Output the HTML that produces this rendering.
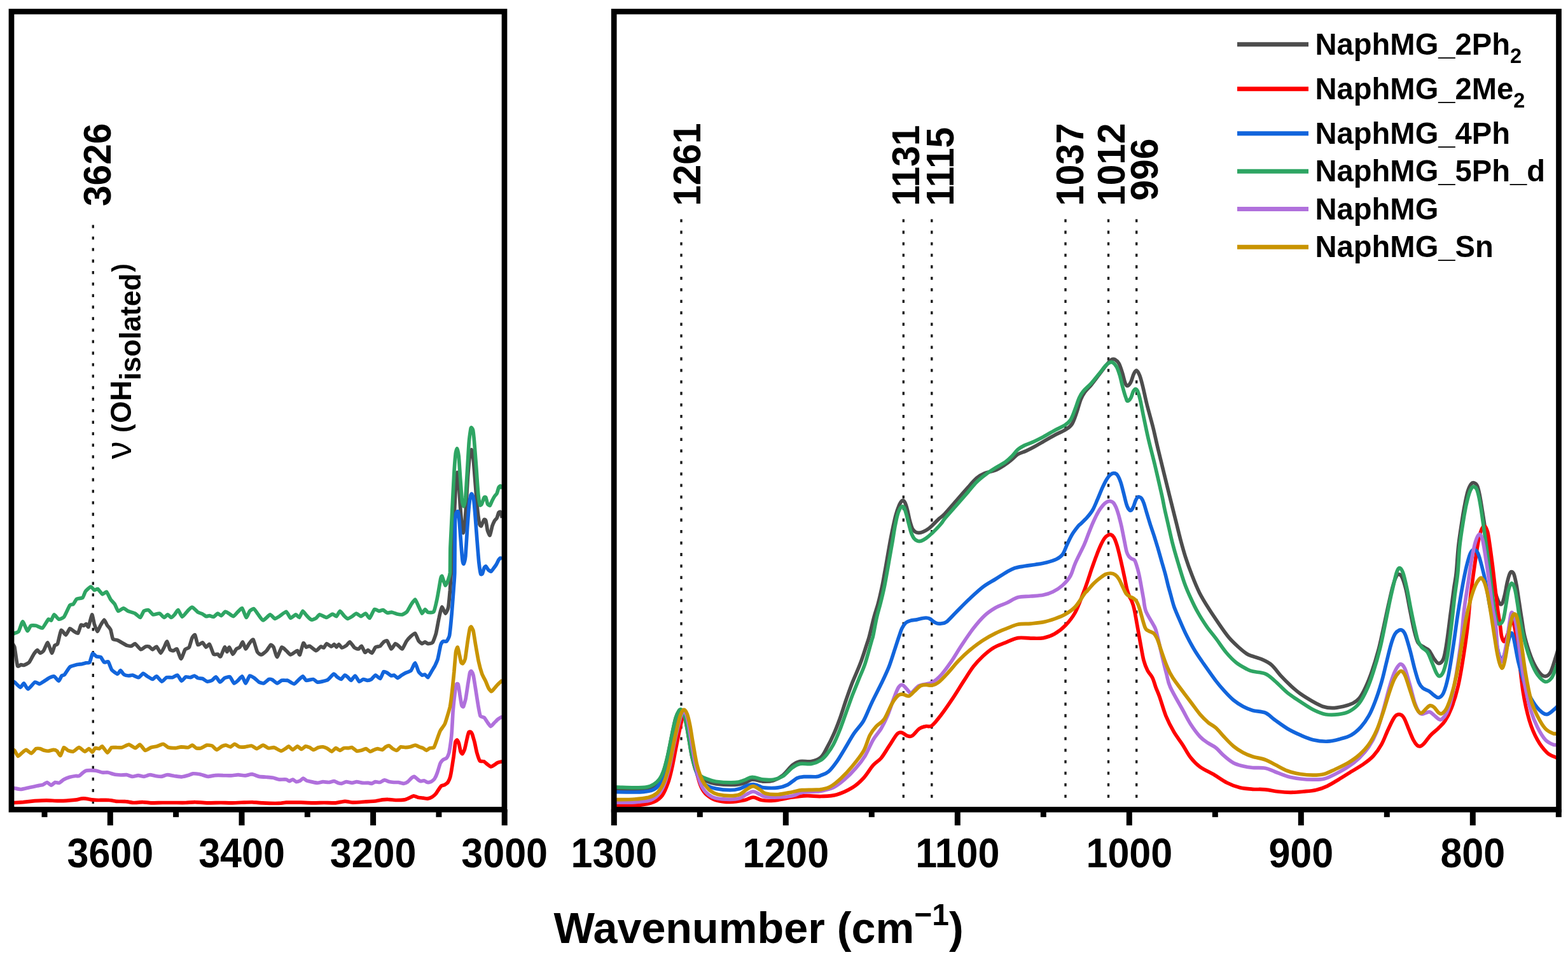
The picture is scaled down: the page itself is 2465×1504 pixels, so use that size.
<!DOCTYPE html>
<html lang="en">
<head>
<meta charset="utf-8">
<title>FTIR spectra</title>
<style>
html,body{margin:0;padding:0;background:#fff;}
body{width:2465px;height:1504px;overflow:hidden;}
svg{display:block;}
</style>
</head>
<body>
<svg width="2465" height="1504" viewBox="0 0 2465 1504" font-family='"Liberation Sans", sans-serif' font-weight="bold">
<rect x="0" y="0" width="2465" height="1504" fill="#ffffff"/>
<defs><clipPath id="cl"><rect x="18" y="18" width="775" height="1253"/></clipPath><clipPath id="cr"><rect x="965" y="18" width="1485" height="1253"/></clipPath></defs>
<line x1="146.3" y1="353.6" x2="146.3" y2="1267" stroke="#1c1c1c" stroke-width="3.4" stroke-dasharray="4.8 13.29" />
<line x1="1071.0" y1="344.5" x2="1071.0" y2="1267" stroke="#1c1c1c" stroke-width="3.4" stroke-dasharray="4.8 13.29" />
<line x1="1420.3" y1="344.5" x2="1420.3" y2="1267" stroke="#1c1c1c" stroke-width="3.4" stroke-dasharray="4.8 13.29" />
<line x1="1464.8" y1="344.5" x2="1464.8" y2="1267" stroke="#1c1c1c" stroke-width="3.4" stroke-dasharray="4.8 13.29" />
<line x1="1675.0" y1="344.5" x2="1675.0" y2="1267" stroke="#1c1c1c" stroke-width="3.4" stroke-dasharray="4.8 13.29" />
<line x1="1742.5" y1="344.5" x2="1742.5" y2="1267" stroke="#1c1c1c" stroke-width="3.4" stroke-dasharray="4.8 13.29" />
<line x1="1786.7" y1="344.5" x2="1786.7" y2="1267" stroke="#1c1c1c" stroke-width="3.4" stroke-dasharray="4.8 13.29" />
<path d="M18.3,1009.8C18.7,1010.4 22.1,1014.1 22.9,1017.1C23.6,1020.2 26.6,1044.1 27.5,1046.4C28.3,1048.7 32.1,1044.7 32.9,1044.6C33.8,1044.5 36.5,1045.8 37.5,1045.5C38.6,1045.2 44.5,1042.4 45.8,1040.9C47.1,1039.5 52.0,1029.7 53.1,1028.1C54.1,1026.5 57.7,1021.9 58.6,1021.7C59.4,1021.6 62.3,1026.2 63.1,1026.3C64.0,1026.4 67.6,1024.0 68.6,1022.6C69.6,1021.2 74.0,1009.5 75.0,1009.8C76.1,1010.1 80.5,1025.9 81.4,1026.3C82.4,1026.7 85.3,1015.6 86.0,1014.4C86.8,1013.2 89.8,1013.6 90.6,1011.6C91.4,1009.7 95.0,991.7 96.1,990.6C97.2,989.4 102.3,998.1 103.4,997.9C104.5,997.7 108.8,988.4 109.8,987.8C110.8,987.3 114.2,990.9 115.3,991.5C116.4,992.1 121.6,995.9 122.6,995.2C123.6,994.4 126.4,983.3 127.2,982.4C128.0,981.4 131.1,983.4 131.8,983.3C132.5,983.1 134.8,980.4 135.4,980.5C136.0,980.7 138.3,986.3 139.1,985.1C139.9,983.9 143.8,966.3 144.6,965.9C145.3,965.5 147.6,978.3 148.2,980.5C148.9,982.7 152.0,992.3 152.8,992.4C153.7,992.6 157.4,983.9 158.3,982.4C159.2,980.8 163.0,974.1 163.8,974.1C164.6,974.1 167.5,981.1 168.4,982.4C169.2,983.7 173.1,987.8 173.9,989.7C174.6,991.5 176.6,1002.9 177.5,1004.3C178.4,1005.7 183.7,1005.7 184.8,1006.1C186.0,1006.6 190.0,1009.1 191.3,1009.8C192.5,1010.5 198.2,1013.9 199.5,1014.4C200.8,1014.8 205.7,1015.5 206.8,1015.3C207.9,1015.1 211.1,1011.2 212.3,1011.6C213.5,1012.1 220.1,1020.4 221.4,1020.8C222.8,1021.2 227.7,1016.6 228.8,1016.2C229.8,1015.8 233.3,1015.8 234.3,1016.2C235.2,1016.6 238.8,1020.8 239.8,1020.8C240.7,1020.8 245.1,1015.8 246.2,1016.2C247.2,1016.7 251.6,1026.2 252.6,1026.3C253.6,1026.4 257.2,1018.7 258.1,1017.1C258.9,1015.6 261.9,1007.7 262.6,1008.0C263.4,1008.3 266.4,1019.6 267.2,1020.8C268.0,1022.0 271.8,1022.7 272.7,1022.6C273.6,1022.5 277.2,1018.8 278.2,1019.9C279.2,1020.9 283.5,1035.4 284.6,1035.4C285.7,1035.5 289.9,1022.3 291.0,1020.8C292.1,1019.3 296.5,1018.7 297.4,1017.1C298.3,1015.6 301.2,1004.1 302.0,1002.5C302.7,1000.9 305.8,997.0 306.6,997.9C307.3,998.8 310.1,1012.5 311.1,1013.5C312.1,1014.5 317.4,1009.5 318.4,1009.8C319.5,1010.1 323.0,1016.9 323.9,1017.1C324.9,1017.4 328.4,1011.6 329.4,1012.6C330.4,1013.5 334.8,1026.8 335.8,1028.1C336.9,1029.4 341.3,1027.8 342.2,1028.1C343.2,1028.4 345.9,1032.7 346.8,1031.8C347.7,1030.9 352.4,1017.7 353.2,1017.1C354.1,1016.5 356.3,1024.5 356.9,1024.5C357.5,1024.5 359.8,1016.8 360.5,1017.1C361.3,1017.4 365.1,1027.9 366.0,1028.1C366.9,1028.3 370.6,1020.8 371.5,1019.9C372.4,1019.0 376.2,1018.0 377.0,1017.1C377.9,1016.2 380.8,1008.7 381.6,1008.9C382.4,1009.1 385.3,1019.6 386.2,1019.9C387.0,1020.1 390.7,1012.9 391.7,1011.6C392.6,1010.4 397.0,1004.2 398.1,1005.2C399.1,1006.3 403.4,1022.5 404.5,1024.5C405.5,1026.4 409.7,1029.2 410.9,1029.0C412.1,1028.9 417.9,1023.9 419.1,1022.6C420.3,1021.3 424.6,1013.9 425.5,1013.5C426.4,1013.0 429.2,1015.5 430.1,1017.1C430.9,1018.7 434.5,1032.7 435.6,1032.7C436.6,1032.7 441.7,1018.0 442.9,1017.1C444.1,1016.3 448.9,1021.6 450.0,1022.6C451.2,1023.6 455.6,1028.9 456.7,1029.0C457.9,1029.2 463.1,1025.0 464.1,1024.5C465.0,1023.9 467.1,1022.2 467.7,1022.6C468.3,1023.0 470.6,1030.0 471.4,1029.0C472.1,1028.0 476.0,1011.7 476.9,1010.7C477.7,1009.7 480.6,1016.7 481.4,1017.1C482.3,1017.5 485.6,1014.8 486.9,1015.3C488.2,1015.8 495.5,1022.5 497.0,1022.6C498.4,1022.7 503.3,1016.6 504.3,1016.2C505.3,1015.8 508.1,1018.4 508.9,1018.0C509.7,1017.7 512.5,1011.8 513.5,1011.6C514.5,1011.5 519.8,1016.1 520.8,1016.2C521.8,1016.3 524.7,1012.5 525.4,1012.6C526.1,1012.6 528.4,1017.1 529.0,1017.1C529.6,1017.1 532.0,1012.5 532.7,1012.6C533.4,1012.6 536.3,1017.9 537.3,1018.0C538.3,1018.2 543.5,1015.1 544.6,1014.4C545.7,1013.6 549.0,1008.6 550.1,1008.9C551.1,1009.2 556.2,1017.1 557.4,1018.0C558.5,1019.0 562.9,1020.1 563.8,1019.9C564.7,1019.6 567.5,1014.8 568.4,1015.3C569.2,1015.8 573.0,1024.8 573.9,1025.4C574.7,1025.9 577.5,1021.6 578.4,1021.7C579.4,1021.8 583.9,1026.7 584.8,1026.3C585.8,1025.9 589.3,1018.0 590.3,1017.1C591.4,1016.2 596.6,1016.0 597.7,1015.3C598.7,1014.6 602.2,1009.6 603.1,1008.9C604.1,1008.2 607.6,1006.1 608.6,1007.1C609.6,1008.0 614.0,1019.5 615.0,1019.9C616.1,1020.3 620.5,1012.0 621.4,1011.6C622.4,1011.3 626.0,1014.6 626.9,1015.3C627.9,1016.0 631.4,1020.5 632.4,1019.9C633.4,1019.3 637.8,1009.6 638.8,1008.0C639.9,1006.4 644.1,1001.7 645.2,1000.7C646.4,999.6 651.5,994.6 652.6,995.2C653.6,995.7 657.1,1005.7 658.1,1007.1C659.0,1008.4 662.7,1011.5 663.5,1011.6C664.4,1011.8 667.4,1008.9 668.1,1008.9C668.9,1008.9 671.7,1011.6 672.7,1011.6C673.7,1011.7 678.9,1011.2 680.0,1009.8C681.1,1008.4 684.7,998.4 685.5,995.2C686.3,992.0 689.3,974.8 690.1,971.4C690.8,967.9 693.8,954.6 694.7,954.0C695.5,953.4 699.3,964.0 700.1,964.1C701.0,964.1 704.1,958.0 704.7,954.9C705.3,951.9 707.1,932.0 707.5,927.5C707.8,922.9 709.1,902.6 709.3,900.0C709.5,897.4 709.5,901.1 709.8,896.2C710.1,891.3 712.1,850.5 712.6,841.3C713.0,832.2 714.9,793.7 715.3,786.4C715.7,779.1 716.8,757.1 717.1,753.5C717.4,749.8 718.6,742.2 719.0,742.5C719.3,742.8 720.8,752.7 721.2,757.1C721.5,761.6 723.1,789.6 723.5,795.6C724.0,801.5 725.9,825.0 726.3,828.5C726.7,832.0 727.8,837.7 728.1,837.7C728.4,837.7 729.9,832.0 730.3,828.5C730.7,825.0 732.3,802.1 732.7,795.6C733.1,789.0 735.0,756.2 735.4,749.8C735.9,743.4 737.7,722.3 738.2,718.7C738.7,715.1 740.8,706.5 741.3,706.8C741.8,707.1 743.8,718.8 744.2,722.4C744.6,725.9 745.9,743.7 746.4,749.8C746.9,755.9 749.5,789.5 750.1,795.6C750.7,801.7 753.2,820.4 753.7,823.0C754.3,825.6 755.9,827.2 756.5,826.7C757.1,826.1 760.4,817.3 761.1,816.6C761.7,815.9 763.3,817.0 763.8,818.4C764.3,819.9 766.0,832.1 766.5,834.0C767.1,835.9 769.6,841.9 770.2,841.3C770.8,840.7 773.3,828.6 773.9,826.7C774.5,824.8 776.9,819.5 777.5,818.4C778.1,817.4 780.7,814.9 781.2,813.9C781.7,812.8 783.5,806.4 783.9,805.6C784.4,804.9 786.2,804.0 786.7,804.7C787.1,805.4 789.2,813.1 789.4,813.9" fill="none" stroke="#4d4d4d" stroke-width="5.7" stroke-linejoin="round" stroke-linecap="butt" clip-path="url(#cl)"/>
<path d="M18.3,1261.5C18.6,1261.5 21.3,1261.6 22.8,1261.5C24.3,1261.4 33.9,1260.8 36.5,1260.6C39.2,1260.3 51.7,1259.0 54.8,1258.7C57.8,1258.5 70.0,1257.8 73.0,1257.8C76.1,1257.8 88.3,1258.7 91.3,1258.7C94.4,1258.7 107.1,1258.0 109.6,1257.8C112.0,1257.7 119.0,1257.1 120.5,1256.9C122.0,1256.7 126.6,1255.2 127.8,1255.1C129.0,1254.9 133.8,1254.9 135.1,1255.1C136.5,1255.2 142.6,1256.7 144.3,1256.9C145.9,1257.1 152.9,1257.4 155.2,1257.5C157.5,1257.5 169.4,1257.3 171.7,1257.5C173.9,1257.6 180.5,1259.1 182.6,1259.3C184.7,1259.5 194.9,1259.5 197.2,1259.7C199.5,1259.8 207.7,1261.4 210.0,1261.5C212.3,1261.6 222.3,1260.5 224.6,1260.6C226.9,1260.6 234.8,1261.8 237.4,1261.8C240.0,1261.9 252.6,1261.5 255.7,1261.5C258.7,1261.5 270.9,1261.5 273.9,1261.5C277.0,1261.5 289.4,1261.6 292.2,1261.5C294.9,1261.4 304.1,1260.5 306.8,1260.6C309.5,1260.6 321.7,1261.8 325.1,1261.8C328.4,1261.9 343.6,1261.5 347.0,1261.5C350.3,1261.5 362.2,1261.9 365.2,1261.8C368.3,1261.8 380.8,1261.2 383.5,1261.1C386.2,1261.0 395.7,1260.7 398.1,1260.8C400.5,1260.8 409.4,1261.7 412.7,1261.8C416.1,1262.0 435.2,1262.5 438.3,1262.4C441.4,1262.3 448.6,1261.2 450.0,1261.1C451.3,1261.0 452.9,1261.1 454.8,1261.1C456.7,1261.1 470.0,1261.1 473.0,1261.1C476.1,1261.2 488.3,1261.8 491.3,1261.8C494.4,1261.9 506.5,1261.5 509.6,1261.5C512.6,1261.5 525.1,1262.0 527.8,1261.8C530.6,1261.7 540.2,1259.4 542.4,1259.3C544.7,1259.2 552.6,1261.1 555.2,1261.1C557.8,1261.2 570.4,1260.2 573.5,1260.0C576.5,1259.8 589.5,1259.0 591.7,1258.7C594.0,1258.5 599.4,1257.1 600.9,1256.9C602.4,1256.7 608.2,1256.3 610.0,1256.4C611.8,1256.4 620.7,1257.4 622.8,1257.5C624.9,1257.5 633.9,1257.2 635.6,1256.9C637.2,1256.6 641.7,1254.7 642.9,1254.2C644.1,1253.7 649.0,1251.0 650.2,1250.9C651.4,1250.8 656.3,1253.0 657.5,1253.3C658.7,1253.5 663.6,1254.0 664.8,1254.2C666.0,1254.3 670.9,1255.2 672.1,1255.1C673.3,1254.9 678.3,1253.0 679.4,1252.4C680.5,1251.7 684.0,1248.9 684.9,1247.8C685.8,1246.7 689.6,1240.6 690.4,1239.6C691.1,1238.5 693.2,1235.5 694.0,1235.0C694.8,1234.5 698.7,1233.6 699.5,1233.2C700.3,1232.7 703.4,1230.5 704.1,1229.5C704.7,1228.5 707.2,1223.2 707.7,1221.3C708.2,1219.4 710.0,1209.4 710.4,1206.7C710.9,1204.0 712.7,1191.8 713.2,1188.4C713.6,1185.1 715.5,1168.7 715.9,1166.5C716.4,1164.4 718.2,1162.7 718.7,1162.9C719.1,1163.0 720.9,1166.8 721.4,1168.3C721.9,1169.9 723.7,1179.8 724.1,1181.1C724.6,1182.5 726.3,1185.1 726.9,1184.8C727.4,1184.5 729.9,1179.5 730.5,1177.5C731.1,1175.5 733.7,1163.3 734.2,1161.0C734.7,1158.8 736.5,1151.9 736.9,1151.0C737.4,1150.1 739.2,1149.9 739.7,1150.1C740.1,1150.3 741.9,1152.4 742.4,1153.7C742.9,1155.1 745.4,1164.1 746.1,1166.5C746.7,1169.0 749.0,1180.5 749.7,1183.0C750.4,1185.4 753.4,1194.6 754.3,1195.7C755.2,1196.9 759.7,1196.2 760.7,1196.7C761.7,1197.1 765.2,1200.5 766.1,1201.2C767.1,1201.9 770.7,1204.8 771.6,1204.9C772.5,1204.9 776.2,1202.7 777.1,1202.1C778.0,1201.6 781.5,1198.9 782.6,1198.5C783.6,1198.0 789.3,1196.8 789.9,1196.7" fill="none" stroke="#ff0000" stroke-width="5.7" stroke-linejoin="round" stroke-linecap="butt" clip-path="url(#cl)"/>
<path d="M18.3,1070.2C18.7,1070.4 21.7,1071.2 22.9,1072.0C24.0,1072.9 30.8,1080.1 32.0,1080.3C33.2,1080.4 36.5,1073.6 37.5,1073.9C38.5,1074.1 42.5,1083.2 43.9,1083.0C45.4,1082.9 53.4,1072.7 54.9,1072.0C56.4,1071.3 61.1,1074.9 62.2,1074.8C63.4,1074.7 67.4,1071.9 68.6,1071.1C69.9,1070.4 75.5,1066.3 76.9,1065.6C78.2,1064.9 83.8,1062.5 85.1,1062.9C86.4,1063.3 91.4,1070.3 92.4,1070.2C93.4,1070.1 96.2,1062.8 97.0,1062.0C97.8,1061.1 100.5,1061.3 101.6,1060.1C102.6,1059.0 108.2,1049.5 109.8,1048.2C111.4,1046.9 119.3,1045.0 120.8,1044.6C122.3,1044.2 126.9,1043.9 128.1,1043.7C129.3,1043.4 134.4,1042.1 135.4,1041.8C136.5,1041.6 140.1,1042.1 140.9,1040.9C141.8,1039.7 144.6,1028.0 145.5,1027.2C146.4,1026.4 150.8,1031.3 151.9,1031.8C153.0,1032.2 157.3,1031.9 158.3,1032.7C159.3,1033.4 162.8,1040.3 163.8,1040.9C164.8,1041.5 169.2,1039.0 170.2,1040.0C171.2,1041.0 174.5,1051.2 175.7,1052.8C176.9,1054.4 183.7,1059.1 184.8,1059.2C186.0,1059.3 188.6,1053.7 189.4,1053.7C190.3,1053.8 193.8,1059.5 194.9,1060.1C196.0,1060.8 201.1,1061.9 202.2,1062.0C203.4,1062.0 207.3,1060.8 208.6,1061.1C209.9,1061.3 216.4,1064.9 217.8,1064.7C219.2,1064.5 224.0,1058.5 225.1,1058.3C226.3,1058.2 230.3,1062.1 231.5,1062.9C232.7,1063.6 238.5,1067.5 239.8,1067.5C241.0,1067.5 244.9,1062.6 246.2,1062.9C247.4,1063.2 253.1,1071.0 254.4,1071.1C255.7,1071.3 260.3,1065.2 261.7,1064.7C263.1,1064.2 269.4,1065.0 270.9,1064.7C272.3,1064.4 277.9,1060.6 279.1,1061.1C280.3,1061.5 284.4,1070.0 285.5,1070.2C286.6,1070.4 290.8,1064.3 291.9,1063.8C293.1,1063.3 298.1,1064.9 299.2,1064.7C300.4,1064.6 304.6,1061.9 305.6,1062.0C306.6,1062.0 310.1,1065.2 311.1,1065.6C312.2,1066.0 317.2,1066.1 318.4,1066.5C319.7,1067.0 324.5,1070.9 325.8,1071.1C327.0,1071.3 331.9,1069.9 333.1,1069.3C334.2,1068.7 338.4,1063.6 339.5,1063.8C340.6,1064.0 344.8,1071.9 345.9,1072.0C347.0,1072.2 351.9,1066.3 353.2,1065.6C354.5,1064.9 360.2,1063.1 361.5,1063.8C362.7,1064.5 366.8,1073.4 367.9,1073.9C368.9,1074.3 373.2,1070.2 374.3,1069.3C375.3,1068.4 379.7,1062.5 380.7,1062.9C381.7,1063.3 385.2,1073.9 386.2,1073.9C387.2,1073.8 391.4,1062.7 392.6,1062.0C393.7,1061.3 398.7,1064.8 399.9,1065.6C401.1,1066.5 406.0,1071.3 407.2,1072.0C408.4,1072.7 413.2,1074.2 414.5,1073.9C415.8,1073.5 421.6,1067.9 422.8,1067.5C423.9,1067.0 427.2,1067.8 428.3,1068.4C429.3,1068.9 434.4,1073.8 435.6,1073.9C436.8,1073.9 441.7,1069.7 442.9,1069.3C444.1,1068.9 449.3,1069.3 450.0,1069.3C450.8,1069.3 451.1,1068.8 452.2,1069.3C453.2,1069.7 460.8,1074.9 462.2,1074.8C463.7,1074.7 468.4,1069.4 469.5,1068.4C470.7,1067.4 475.0,1062.8 476.0,1062.9C476.9,1063.0 480.1,1068.9 481.4,1069.3C482.8,1069.7 491.0,1067.2 492.4,1067.5C493.9,1067.7 497.7,1071.7 498.8,1072.0C500.0,1072.3 504.8,1071.4 506.1,1071.1C507.5,1070.8 513.8,1069.4 515.3,1068.4C516.8,1067.4 523.2,1059.6 524.5,1059.2C525.7,1058.8 529.0,1063.1 529.9,1063.8C530.9,1064.5 535.4,1067.7 536.3,1067.5C537.3,1067.2 541.0,1061.4 541.8,1061.1C542.7,1060.7 545.6,1063.1 546.4,1063.8C547.3,1064.5 550.9,1069.4 551.9,1069.3C552.9,1069.1 557.2,1061.8 558.3,1062.0C559.4,1062.1 563.6,1070.7 564.7,1071.1C565.8,1071.6 570.1,1067.6 571.1,1067.5C572.2,1067.3 576.5,1069.3 577.5,1069.3C578.6,1069.3 582.9,1068.1 583.9,1067.5C585.0,1066.8 589.2,1061.1 590.3,1061.1C591.5,1061.0 596.6,1067.0 597.7,1066.5C598.7,1066.1 602.2,1056.3 603.1,1055.6C604.1,1054.8 607.6,1056.9 608.6,1057.4C609.6,1057.9 614.1,1061.7 615.0,1062.0C616.0,1062.3 618.8,1060.7 619.6,1061.1C620.5,1061.4 624.1,1065.6 625.1,1065.6C626.1,1065.6 630.4,1061.7 631.5,1061.1C632.6,1060.4 636.7,1058.0 637.9,1057.4C639.1,1056.8 644.9,1055.0 646.2,1053.7C647.4,1052.4 651.6,1041.7 652.6,1041.8C653.6,1042.0 657.1,1054.0 658.1,1055.6C659.0,1057.2 662.7,1060.7 663.5,1061.1C664.4,1061.4 667.4,1059.8 668.1,1060.1C668.9,1060.4 671.9,1065.1 672.7,1064.7C673.5,1064.3 677.3,1057.1 678.2,1055.6C679.1,1054.0 682.8,1048.1 683.7,1046.4C684.5,1044.7 687.5,1038.2 688.3,1035.4C689.0,1032.7 692.1,1015.8 692.8,1013.5C693.5,1011.2 695.7,1008.4 696.5,1008.0C697.2,1007.5 701.1,1008.7 702.0,1008.0C702.8,1007.2 705.9,1002.5 706.6,998.8C707.2,995.2 709.7,970.0 710.2,964.1C710.7,958.1 712.6,932.8 713.0,927.5C713.3,922.1 714.6,908.7 714.8,900.0C715.0,891.3 715.1,830.8 715.3,823.0C715.5,815.2 716.7,808.1 717.1,806.5C717.5,804.9 719.5,803.2 719.9,803.8C720.3,804.4 721.3,810.0 721.7,813.9C722.1,817.8 724.0,844.8 724.5,850.5C724.9,856.1 726.8,878.6 727.2,881.6C727.6,884.6 728.6,886.8 729.0,886.2C729.4,885.5 731.3,878.8 731.8,874.3C732.2,869.8 734.1,838.7 734.5,832.2C735.0,825.6 736.8,800.1 737.3,795.6C737.7,791.1 739.6,779.8 740.0,778.2C740.4,776.6 741.5,775.8 741.8,776.3C742.2,776.9 744.1,781.5 744.6,784.6C745.0,787.7 746.9,808.4 747.3,813.9C747.8,819.4 749.6,844.7 750.1,850.5C750.5,856.3 752.4,879.1 752.8,883.4C753.3,887.7 755.1,900.2 755.6,901.7C756.0,903.2 757.9,902.5 758.3,901.7C758.8,901.0 760.6,893.6 761.1,892.6C761.5,891.6 763.3,889.6 763.8,889.8C764.3,890.0 766.8,894.6 767.5,895.3C768.1,896.0 771.3,898.2 772.0,898.1C772.7,897.9 775.0,894.4 775.7,893.5C776.4,892.6 779.6,888.2 780.3,887.1C781.0,885.9 783.4,880.6 783.9,879.8C784.5,878.9 786.2,877.2 786.7,877.0C787.1,876.9 789.2,877.8 789.4,877.9" fill="none" stroke="#1265dc" stroke-width="5.7" stroke-linejoin="round" stroke-linecap="butt" clip-path="url(#cl)"/>
<path d="M18.3,997.0C18.7,996.8 22.0,995.5 22.9,995.2C23.8,994.8 28.2,993.9 29.3,992.4C30.4,990.9 34.5,976.9 35.7,976.9C36.8,976.8 41.9,991.0 43.0,991.5C44.1,992.0 47.4,984.0 48.5,983.3C49.6,982.6 55.2,983.0 56.7,983.3C58.3,983.6 65.2,987.8 66.8,986.9C68.4,986.1 74.8,974.2 76.0,973.2C77.1,972.2 79.8,975.6 80.5,975.0C81.3,974.4 84.1,966.0 85.1,965.9C86.1,965.7 91.1,972.9 92.4,973.2C93.7,973.5 99.2,971.4 100.7,969.5C102.1,967.7 108.6,952.9 109.8,951.2C111.0,949.6 114.4,950.3 115.3,949.4C116.2,948.6 119.6,942.0 120.8,941.2C122.0,940.3 128.8,940.3 129.9,939.3C131.1,938.4 133.4,930.7 134.5,929.3C135.6,927.8 141.6,922.1 142.8,922.0C143.9,921.8 147.3,927.1 148.2,927.5C149.2,927.8 152.7,925.1 153.7,925.6C154.8,926.2 159.9,933.5 161.1,933.9C162.2,934.2 166.4,929.5 167.5,930.2C168.5,930.9 172.8,940.5 173.9,942.1C174.9,943.7 179.3,947.9 180.3,949.4C181.3,950.9 184.6,959.9 185.8,960.4C186.9,960.9 192.7,955.8 194.0,955.8C195.3,955.8 199.8,959.7 201.3,960.4C202.8,961.1 210.7,963.2 212.3,964.1C213.9,964.9 219.4,970.8 220.5,970.5C221.7,970.2 225.0,961.4 226.0,960.4C227.1,959.4 232.1,958.1 233.3,958.6C234.6,959.0 239.2,965.4 240.7,965.9C242.1,966.3 249.3,963.7 250.7,964.1C252.2,964.4 257.0,970.3 258.1,970.5C259.1,970.6 262.6,965.9 263.5,965.9C264.5,965.9 268.1,970.5 269.0,970.5C269.9,970.5 273.6,966.9 274.5,965.9C275.4,964.9 279.0,958.3 280.0,958.6C281.0,958.9 285.2,969.4 286.4,969.5C287.6,969.7 293.4,961.7 294.7,960.4C296.0,959.1 300.6,953.8 302.0,954.0C303.3,954.1 309.8,961.3 311.1,962.2C312.5,963.1 317.4,964.4 318.4,965.0C319.5,965.5 323.0,968.4 323.9,968.6C324.9,968.9 328.4,967.6 329.4,967.7C330.4,967.8 334.8,969.9 335.8,969.5C336.9,969.2 341.2,964.2 342.2,964.1C343.2,963.9 346.7,967.9 347.7,967.7C348.7,967.5 353.1,961.6 354.1,961.3C355.1,961.0 358.6,963.4 359.6,964.1C360.7,964.7 365.8,968.8 366.9,968.6C368.1,968.5 372.2,963.3 373.4,962.2C374.5,961.2 379.5,955.1 380.7,955.8C381.8,956.5 386.1,970.1 387.1,970.5C388.1,970.8 391.6,961.5 392.6,960.4C393.6,959.3 397.9,956.4 399.0,956.7C400.0,957.1 404.2,963.4 405.4,965.0C406.6,966.5 412.0,975.0 413.6,975.0C415.2,975.1 423.1,966.1 424.6,965.9C426.1,965.7 430.7,972.1 431.9,972.3C433.1,972.5 437.7,969.5 439.2,968.6C440.7,967.7 448.6,961.1 450.0,961.3C451.5,961.5 455.5,971.0 456.7,971.4C458.0,971.8 463.8,966.0 465.0,965.9C466.1,965.8 469.5,970.9 470.5,970.5C471.4,970.0 475.0,960.6 476.0,960.4C476.9,960.2 481.2,966.6 482.4,967.7C483.5,968.9 488.5,973.8 489.7,974.1C490.9,974.4 495.9,972.1 497.0,971.4C498.1,970.7 501.1,966.0 502.5,965.9C503.9,965.8 511.8,970.5 513.5,970.5C515.1,970.4 521.3,965.1 522.6,965.0C523.9,964.8 528.0,969.0 529.0,968.6C530.0,968.2 533.5,960.5 534.5,960.4C535.5,960.3 539.9,966.7 540.9,967.7C541.9,968.7 545.3,972.2 546.4,972.3C547.5,972.4 552.6,969.3 553.7,968.6C554.9,967.9 559.0,964.1 560.1,964.1C561.3,964.1 566.2,968.6 567.5,968.6C568.7,968.6 573.6,963.8 574.8,964.1C575.9,964.3 580.0,971.9 581.2,971.4C582.3,970.8 587.3,958.6 588.5,957.7C589.7,956.7 594.7,960.3 595.8,960.4C597.0,960.5 601.2,958.3 602.2,958.6C603.3,958.8 607.5,962.8 608.6,963.1C609.8,963.4 614.7,962.1 616.0,962.2C617.3,962.4 622.8,964.7 624.2,965.0C625.6,965.3 631.1,966.2 632.4,965.9C633.7,965.6 638.6,962.6 639.8,961.3C640.9,960.0 645.1,951.9 646.2,950.3C647.2,948.7 651.6,941.9 652.6,942.1C653.6,942.3 657.1,951.2 658.1,953.1C659.0,954.9 662.7,963.7 663.5,964.1C664.4,964.4 667.4,957.8 668.1,957.7C668.9,957.5 671.6,961.9 672.7,962.2C673.8,962.5 680.6,963.1 681.8,961.3C683.1,959.5 686.4,944.6 687.3,940.3C688.3,935.9 692.2,912.0 692.8,909.2C693.5,906.3 694.4,904.6 695.0,905.5C695.6,906.4 699.3,919.7 700.1,920.1C701.0,920.6 704.1,912.7 704.7,911.0C705.3,909.3 707.2,904.3 707.5,900.0C707.7,895.7 707.7,867.6 708.0,859.6C708.3,851.7 710.3,813.9 710.7,804.7C711.2,795.6 713.0,757.4 713.5,749.8C713.9,742.2 715.8,716.9 716.2,713.2C716.6,709.5 718.2,704.7 718.6,705.0C719.0,705.3 720.7,713.1 721.2,716.9C721.6,720.6 723.1,744.0 723.5,749.8C724.0,755.6 725.8,782.6 726.3,786.4C726.7,790.2 728.6,795.9 729.0,795.6C729.5,795.3 731.3,787.3 731.8,782.8C732.2,778.2 734.1,748.0 734.5,740.7C735.0,733.3 736.8,700.5 737.3,694.9C737.7,689.3 739.7,675.8 740.0,673.9C740.3,672.0 741.0,671.8 741.3,672.0C741.6,672.3 743.2,673.9 743.7,676.6C744.1,679.3 746.0,698.7 746.4,704.1C746.9,709.4 748.7,734.6 749.2,740.7C749.6,746.8 751.4,772.8 751.9,777.3C752.4,781.7 754.2,792.5 754.6,793.7C755.1,795.0 756.9,792.9 757.4,791.9C757.9,790.9 760.5,782.7 761.1,781.8C761.6,781.0 763.3,781.0 763.8,781.8C764.3,782.7 766.0,790.8 766.5,791.9C767.1,793.0 769.6,795.1 770.2,794.6C770.8,794.2 773.3,787.6 773.9,786.4C774.5,785.2 776.9,780.9 777.5,780.0C778.1,779.1 780.7,776.6 781.2,775.4C781.7,774.3 783.5,767.3 783.9,766.3C784.4,765.3 786.2,763.4 786.7,763.5C787.1,763.7 789.2,767.7 789.4,768.1" fill="none" stroke="#2ea563" stroke-width="5.7" stroke-linejoin="round" stroke-linecap="butt" clip-path="url(#cl)"/>
<path d="M18.3,1237.7C18.6,1237.8 21.6,1238.4 22.8,1238.7C24.0,1238.9 31.0,1240.6 32.9,1240.5C34.8,1240.4 43.5,1238.2 45.7,1237.7C47.8,1237.3 56.6,1235.4 58.4,1235.0C60.3,1234.6 66.3,1233.6 67.6,1233.2C68.9,1232.7 72.9,1229.4 74.0,1229.5C75.0,1229.6 79.3,1234.1 80.4,1234.1C81.4,1234.1 85.7,1229.8 86.7,1229.5C87.8,1229.2 92.0,1230.8 93.1,1230.4C94.3,1230.1 99.1,1225.7 100.4,1225.0C101.8,1224.2 108.0,1221.8 109.6,1221.3C111.1,1220.9 117.5,1219.6 118.7,1219.5C119.9,1219.3 123.3,1219.9 124.2,1219.5C125.1,1219.1 128.7,1215.6 129.7,1214.9C130.6,1214.2 134.1,1211.6 135.1,1211.3C136.2,1210.9 141.1,1210.7 142.4,1210.7C143.8,1210.7 150.0,1211.0 151.6,1211.3C153.1,1211.5 159.2,1213.8 160.7,1214.0C162.2,1214.2 168.3,1213.8 169.8,1214.0C171.4,1214.2 177.3,1216.4 179.0,1216.7C180.6,1217.1 188.2,1217.9 189.9,1218.0C191.6,1218.1 197.5,1217.5 199.1,1217.7C200.6,1217.9 206.7,1220.3 208.2,1220.4C209.7,1220.5 215.8,1218.6 217.3,1218.6C218.8,1218.6 224.9,1220.5 226.4,1220.4C228.0,1220.3 234.1,1217.7 235.6,1217.7C237.1,1217.6 243.2,1219.3 244.7,1219.5C246.2,1219.7 252.3,1220.5 253.8,1220.4C255.4,1220.2 261.3,1217.7 263.0,1217.7C264.6,1217.6 272.0,1219.2 273.9,1219.5C275.8,1219.7 284.0,1220.8 285.8,1220.8C287.6,1220.7 294.4,1219.0 295.8,1218.6C297.3,1218.2 301.6,1216.0 303.1,1215.8C304.7,1215.7 312.1,1216.4 314.1,1216.7C316.1,1217.1 324.9,1220.2 326.9,1220.4C328.9,1220.5 335.9,1218.7 337.8,1218.6C339.8,1218.4 348.5,1218.5 350.6,1218.6C352.8,1218.6 361.4,1219.0 363.4,1218.9C365.4,1218.9 372.5,1217.7 374.4,1217.7C376.2,1217.7 383.5,1219.0 385.3,1218.9C387.1,1218.9 394.4,1216.6 396.3,1216.7C398.1,1216.9 405.3,1220.0 407.2,1220.4C409.2,1220.8 418.2,1221.2 420.0,1221.3C421.8,1221.5 427.6,1221.9 429.1,1222.2C430.7,1222.5 436.5,1224.7 438.3,1225.0C440.0,1225.2 448.6,1224.7 450.0,1225.0C451.3,1225.2 453.9,1227.7 454.8,1227.7C455.6,1227.7 459.3,1224.9 460.3,1225.0C461.2,1225.0 464.8,1228.5 465.7,1228.6C466.7,1228.8 471.2,1227.2 472.1,1226.8C473.0,1226.3 475.9,1223.1 476.7,1223.1C477.5,1223.1 481.1,1226.3 482.2,1226.8C483.2,1227.2 488.1,1228.3 489.5,1228.6C490.9,1228.9 497.1,1230.4 498.6,1230.4C500.1,1230.4 506.2,1228.7 507.7,1228.6C509.3,1228.5 515.4,1229.6 516.9,1229.5C518.3,1229.4 523.9,1227.6 525.1,1227.7C526.3,1227.8 530.5,1230.1 531.5,1230.4C532.5,1230.7 535.9,1231.5 537.0,1231.4C538.0,1231.2 542.9,1228.7 544.3,1228.6C545.6,1228.5 552.0,1230.4 553.4,1230.4C554.8,1230.4 559.3,1228.6 560.7,1228.6C562.1,1228.6 568.3,1230.3 569.8,1230.4C571.4,1230.6 577.7,1230.4 579.0,1230.4C580.2,1230.5 583.5,1231.5 584.4,1231.4C585.4,1231.2 588.9,1228.8 589.9,1228.6C591.0,1228.5 596.0,1229.8 597.2,1229.5C598.4,1229.3 603.3,1225.9 604.5,1225.9C605.7,1225.8 610.6,1228.3 611.8,1228.6C613.1,1228.9 617.9,1229.4 619.1,1229.5C620.4,1229.6 625.1,1229.4 626.4,1229.5C627.7,1229.7 633.4,1231.4 634.7,1231.4C635.9,1231.3 640.1,1229.3 641.1,1228.6C642.0,1227.9 645.7,1223.8 646.5,1223.1C647.4,1222.4 650.3,1220.3 651.1,1220.4C651.9,1220.5 654.8,1223.4 655.7,1224.0C656.5,1224.7 660.2,1227.5 661.1,1227.7C662.1,1227.9 665.7,1226.6 666.6,1226.8C667.5,1226.9 671.2,1229.4 672.1,1229.5C673.0,1229.7 676.7,1229.1 677.6,1228.6C678.5,1228.2 682.2,1225.3 683.1,1224.0C683.9,1222.8 686.9,1216.1 687.6,1214.0C688.4,1211.9 691.4,1201.1 692.2,1199.4C692.9,1197.7 695.9,1194.6 696.7,1193.9C697.6,1193.2 701.5,1192.1 702.2,1191.2C703.0,1190.3 705.3,1185.0 705.9,1183.0C706.4,1180.9 708.2,1169.4 708.6,1166.5C709.0,1163.6 710.2,1152.2 710.4,1148.3C710.7,1144.4 711.7,1124.3 712.0,1119.6C712.4,1114.9 714.3,1095.8 714.8,1092.2C715.2,1088.5 717.1,1077.1 717.5,1075.7C718.0,1074.3 719.8,1074.3 720.3,1075.7C720.7,1077.1 722.6,1089.4 723.0,1092.2C723.5,1094.9 725.3,1107.1 725.8,1108.6C726.2,1110.2 728.0,1111.4 728.5,1110.5C729.0,1109.6 731.6,1100.7 732.2,1097.7C732.8,1094.6 735.3,1077.2 735.8,1073.9C736.4,1070.5 738.2,1059.0 738.6,1057.4C739.0,1055.8 740.3,1054.3 740.8,1054.6C741.2,1055.0 743.5,1058.7 744.1,1061.1C744.6,1063.4 747.1,1079.2 747.7,1083.0C748.3,1086.8 750.8,1103.3 751.4,1106.8C752.0,1110.3 754.2,1123.4 755.1,1125.1C755.9,1126.9 760.5,1126.9 761.5,1127.9C762.4,1128.8 766.1,1134.9 766.9,1136.1C767.8,1137.2 770.7,1141.6 771.5,1141.6C772.4,1141.6 776.1,1137.0 777.0,1136.1C777.9,1135.2 781.4,1131.4 782.5,1130.6C783.6,1129.8 789.2,1126.4 789.8,1126.0" fill="none" stroke="#b070dc" stroke-width="5.7" stroke-linejoin="round" stroke-linecap="butt" clip-path="url(#cl)"/>
<path d="M18.3,1177.5C18.6,1177.6 22.0,1178.4 22.8,1179.3C23.7,1180.2 27.3,1188.1 28.3,1188.4C29.3,1188.7 33.6,1183.8 34.7,1183.0C35.8,1182.1 39.9,1178.3 41.1,1178.4C42.3,1178.5 48.0,1184.0 49.3,1183.9C50.6,1183.7 55.5,1177.2 56.6,1176.6C57.8,1176.0 61.9,1176.3 63.0,1176.6C64.1,1176.8 68.3,1179.0 69.4,1179.3C70.5,1179.6 75.5,1180.3 76.7,1180.2C77.9,1180.1 82.9,1178.4 84.0,1178.4C85.1,1178.4 88.6,1179.5 89.5,1180.2C90.4,1181.0 94.0,1188.0 95.0,1187.5C95.9,1187.1 99.4,1175.4 100.4,1174.7C101.4,1174.1 105.6,1178.8 106.8,1179.3C108.0,1179.8 113.6,1181.5 115.0,1181.1C116.5,1180.8 122.7,1174.7 124.2,1174.7C125.7,1174.7 132.0,1181.0 133.3,1181.1C134.6,1181.3 138.7,1176.5 139.7,1176.6C140.7,1176.6 144.3,1182.1 145.2,1182.0C146.0,1182.0 148.8,1176.1 149.7,1175.7C150.7,1175.2 155.2,1176.8 156.1,1176.6C157.0,1176.3 159.6,1172.4 160.7,1172.9C161.8,1173.4 167.7,1182.8 168.9,1183.0C170.1,1183.1 174.2,1175.4 175.3,1174.7C176.5,1174.1 181.2,1174.7 182.6,1174.7C184.0,1174.7 190.1,1175.1 191.7,1174.7C193.4,1174.4 201.0,1170.1 202.7,1170.2C204.5,1170.3 211.3,1175.7 212.7,1175.7C214.2,1175.7 218.8,1169.9 220.1,1170.2C221.3,1170.5 226.8,1178.9 228.3,1179.3C229.7,1179.7 235.9,1175.3 237.4,1174.7C238.9,1174.2 244.9,1173.4 246.5,1172.9C248.1,1172.5 255.1,1169.1 256.6,1169.3C258.1,1169.4 263.2,1174.2 264.8,1174.7C266.4,1175.3 274.1,1175.7 275.7,1175.7C277.4,1175.6 283.2,1173.9 284.9,1173.8C286.6,1173.8 294.4,1175.0 295.8,1174.7C297.3,1174.5 301.2,1171.0 302.2,1171.1C303.3,1171.2 307.5,1175.3 308.6,1175.7C309.8,1176.0 314.6,1176.0 315.9,1175.7C317.3,1175.3 323.6,1171.4 325.1,1171.1C326.5,1170.8 332.0,1171.4 333.3,1172.0C334.6,1172.6 339.3,1178.3 340.6,1178.4C341.9,1178.5 347.6,1173.5 348.8,1172.9C350.0,1172.3 354.0,1171.0 355.2,1171.1C356.3,1171.2 361.3,1174.0 362.5,1173.8C363.6,1173.7 367.7,1169.3 368.9,1169.3C370.0,1169.3 374.8,1173.4 376.2,1173.8C377.6,1174.2 383.7,1174.0 385.3,1173.8C386.9,1173.7 393.8,1171.8 395.4,1172.0C396.9,1172.2 402.1,1176.6 403.6,1176.6C405.1,1176.5 412.1,1171.2 413.6,1171.1C415.1,1171.0 420.4,1175.3 421.8,1175.7C423.3,1176.0 429.3,1174.4 431.0,1174.7C432.6,1175.1 440.3,1180.1 441.9,1180.2C443.5,1180.3 449.0,1176.3 450.0,1175.7C451.0,1175.0 453.0,1172.7 453.9,1172.9C454.7,1173.1 459.1,1178.4 460.3,1178.4C461.4,1178.4 466.4,1173.0 467.6,1172.9C468.7,1172.8 472.9,1177.5 474.0,1177.5C475.0,1177.5 479.3,1173.1 480.4,1172.9C481.4,1172.7 485.7,1174.3 486.7,1174.7C487.8,1175.2 492.0,1178.4 493.1,1178.4C494.3,1178.4 499.2,1175.1 500.4,1174.7C501.7,1174.4 506.5,1173.7 507.7,1173.8C509.0,1174.0 513.9,1176.0 515.0,1176.6C516.2,1177.2 520.4,1181.2 521.4,1181.1C522.5,1181.1 526.8,1175.8 527.8,1175.7C528.9,1175.5 533.2,1179.3 534.2,1179.3C535.3,1179.3 539.5,1176.0 540.6,1175.7C541.8,1175.3 546.9,1175.7 547.9,1175.7C549.0,1175.6 552.3,1174.4 553.4,1174.7C554.5,1175.1 559.5,1179.8 560.7,1180.2C561.9,1180.6 566.8,1179.6 568.0,1179.3C569.2,1179.0 574.2,1176.4 575.3,1176.6C576.5,1176.7 580.6,1181.0 581.7,1181.1C582.8,1181.3 587.1,1178.8 588.1,1178.4C589.1,1178.0 592.5,1176.6 593.6,1176.6C594.6,1176.6 599.8,1178.6 600.9,1178.4C601.9,1178.2 605.4,1174.4 606.4,1173.8C607.3,1173.3 610.9,1171.8 611.8,1172.0C612.7,1172.2 616.3,1176.0 617.3,1176.6C618.3,1177.2 622.6,1179.5 623.7,1179.3C624.8,1179.1 629.0,1174.2 630.1,1173.8C631.2,1173.4 636.2,1174.7 637.4,1174.7C638.6,1174.7 643.4,1174.1 644.7,1173.8C646.0,1173.5 651.7,1171.1 652.9,1171.1C654.1,1171.1 658.3,1173.4 659.3,1173.8C660.3,1174.2 663.9,1175.2 664.8,1175.7C665.7,1176.1 669.4,1179.3 670.3,1179.3C671.2,1179.3 674.8,1176.0 675.7,1175.7C676.7,1175.3 681.2,1175.8 682.1,1174.7C683.1,1173.7 685.9,1165.1 686.7,1162.9C687.5,1160.7 691.1,1150.4 692.2,1148.3C693.2,1146.1 698.2,1140.5 699.5,1137.3C700.8,1134.2 706.5,1115.0 707.5,1110.5C708.4,1105.9 710.6,1087.6 711.1,1083.0C711.7,1078.4 713.4,1060.4 713.9,1055.6C714.3,1050.7 716.2,1027.7 716.6,1024.5C717.1,1021.2 718.9,1016.8 719.4,1017.1C719.8,1017.4 721.7,1026.1 722.1,1028.1C722.6,1030.1 724.4,1039.7 724.9,1040.9C725.3,1042.1 727.1,1043.2 727.6,1042.8C728.1,1042.3 730.6,1038.2 731.3,1035.4C731.9,1032.7 734.3,1013.8 734.9,1009.8C735.5,1005.8 738.1,989.9 738.6,987.8C739.1,985.8 740.3,984.8 740.8,985.1C741.2,985.4 743.5,989.1 744.1,991.5C744.6,993.9 747.0,1009.5 747.7,1013.5C748.4,1017.4 751.5,1035.3 752.3,1039.1C753.1,1042.9 756.9,1056.6 757.8,1059.2C758.7,1061.8 762.4,1068.4 763.3,1070.2C764.1,1072.0 767.1,1079.8 767.9,1081.2C768.6,1082.6 771.7,1086.6 772.4,1086.7C773.2,1086.8 776.2,1083.0 777.0,1082.1C777.9,1081.2 781.4,1076.8 782.5,1075.7C783.6,1074.6 789.2,1069.8 789.8,1069.3" fill="none" stroke="#c99400" stroke-width="5.7" stroke-linejoin="round" stroke-linecap="butt" clip-path="url(#cl)"/>
<path d="M964.5,1241.7C965.5,1241.7 965.0,1241.6 970.5,1241.7C976.0,1241.8 989.8,1242.3 997.6,1242.2C1005.4,1242.0 1012.1,1241.9 1017.1,1240.9C1022.1,1240.0 1024.4,1238.8 1027.7,1236.4C1030.9,1234.1 1034.2,1230.4 1036.7,1226.7C1039.2,1222.9 1040.7,1219.6 1042.7,1213.9C1044.7,1208.1 1047.0,1199.2 1048.7,1192.1C1050.5,1184.9 1051.7,1178.3 1053.2,1171.0C1054.7,1163.8 1056.2,1155.5 1057.7,1148.5C1059.2,1141.5 1060.7,1133.9 1062.2,1128.9C1063.7,1123.9 1065.4,1120.6 1066.8,1118.4C1068.1,1116.2 1069.3,1115.5 1070.5,1115.7C1071.8,1116.0 1072.9,1116.2 1074.3,1119.9C1075.6,1123.6 1077.3,1130.7 1078.8,1138.0C1080.3,1145.2 1081.8,1155.0 1083.3,1163.5C1084.8,1172.0 1086.0,1181.2 1087.8,1189.1C1089.6,1197.0 1091.6,1205.5 1093.8,1210.9C1096.1,1216.3 1098.6,1218.6 1101.3,1221.4C1104.1,1224.2 1106.3,1225.7 1110.4,1227.4C1114.4,1229.2 1117.9,1230.9 1125.4,1231.9C1132.9,1232.9 1147.9,1233.7 1155.5,1233.4C1163.0,1233.2 1166.0,1231.8 1170.5,1230.4C1175.0,1229.0 1177.5,1225.5 1182.5,1225.2C1187.5,1224.8 1195.1,1227.9 1200.6,1228.2C1206.1,1228.4 1210.6,1228.3 1215.6,1226.7C1220.6,1225.0 1225.6,1222.4 1230.6,1218.4C1235.6,1214.4 1241.2,1206.2 1245.7,1202.6C1250.2,1199.0 1252.7,1197.6 1257.7,1196.6C1262.7,1195.6 1270.2,1197.7 1275.7,1196.6C1281.3,1195.5 1286.7,1193.4 1290.8,1189.8C1294.8,1186.3 1296.8,1181.0 1300.0,1175.2C1303.2,1169.4 1306.7,1162.7 1310.0,1155.2C1313.4,1147.7 1316.7,1139.3 1320.0,1130.2C1323.4,1121.0 1326.7,1109.7 1330.0,1100.2C1333.4,1090.6 1336.3,1082.2 1340.0,1072.6C1343.8,1063.0 1348.8,1052.6 1352.5,1042.6C1356.3,1032.6 1360.2,1019.7 1362.6,1012.6C1364.9,1005.5 1364.7,1007.0 1366.6,1000.0C1368.5,992.9 1371.6,978.9 1373.9,970.3C1376.2,961.6 1378.4,956.1 1380.5,948.3C1382.6,940.5 1384.6,931.5 1386.3,923.4C1388.1,915.4 1389.3,908.1 1390.7,900.0C1392.2,892.0 1393.7,883.4 1395.1,875.1C1396.6,866.8 1398.1,858.1 1399.5,850.2C1401.0,842.4 1402.4,835.1 1403.9,828.3C1405.4,821.5 1406.8,814.6 1408.3,809.3C1409.8,803.9 1411.3,799.5 1412.7,796.1C1414.0,792.7 1415.2,790.4 1416.3,788.8C1417.4,787.2 1418.2,786.3 1419.3,786.6C1420.4,786.8 1421.7,787.7 1422.9,790.2C1424.2,792.8 1425.4,797.3 1426.6,802.0C1427.8,806.6 1429.0,813.4 1430.2,818.1C1431.5,822.7 1432.6,826.8 1433.9,829.8C1435.2,832.7 1436.6,834.3 1438.3,835.6C1440.0,836.9 1442.0,837.4 1444.2,837.4C1446.3,837.4 1448.8,836.8 1451.5,835.6C1454.2,834.5 1457.3,832.7 1460.3,830.5C1463.2,828.3 1466.3,825.0 1469.0,822.4C1471.7,819.9 1473.7,817.6 1476.3,815.1C1479.0,812.7 1480.8,812.3 1485.1,807.7C1489.5,803.1 1496.8,794.4 1502.7,787.7C1508.5,781.0 1514.8,773.7 1520.2,767.7C1525.6,761.6 1530.6,755.4 1535.2,751.4C1539.8,747.5 1542.7,746.0 1547.7,743.9C1552.7,741.8 1559.8,741.2 1565.2,738.9C1570.6,736.6 1576.0,732.9 1580.2,730.2C1584.4,727.4 1586.9,725.4 1590.2,722.6C1593.6,719.9 1596.5,716.2 1600.2,713.9C1604.0,711.6 1608.6,710.8 1612.7,708.9C1616.9,707.0 1620.7,705.1 1625.3,702.6C1629.8,700.1 1634.8,697.0 1640.3,693.9C1645.7,690.7 1651.9,687.0 1657.8,683.9C1663.6,680.7 1670.7,678.0 1675.3,675.1C1679.9,672.2 1682.4,670.9 1685.3,666.4C1688.2,661.8 1690.5,654.1 1692.8,647.6C1695.1,641.1 1697.0,632.8 1699.1,627.6C1701.1,622.4 1702.6,620.1 1705.3,616.3C1708.0,612.6 1711.6,609.6 1715.3,605.1C1719.1,600.5 1723.7,594.2 1727.8,588.8C1732.0,583.4 1737.0,576.5 1740.3,572.5C1743.7,568.6 1745.8,566.3 1747.8,565.0C1749.9,563.8 1751.0,564.0 1752.8,565.0C1754.7,566.1 1757.2,567.9 1759.1,571.3C1761.0,574.6 1762.4,579.8 1764.1,585.0C1765.8,590.3 1767.6,599.0 1769.1,602.6C1770.6,606.1 1771.4,606.7 1772.9,606.3C1774.3,605.9 1776.3,603.2 1777.9,600.1C1779.5,596.9 1780.9,590.5 1782.4,587.5C1783.8,584.6 1785.1,582.1 1786.6,582.5C1788.2,583.0 1790.0,585.9 1791.6,590.0C1793.3,594.2 1794.8,600.1 1796.6,607.6C1798.5,615.1 1800.2,624.2 1802.9,635.1C1805.6,645.9 1810.0,660.9 1812.9,672.6C1815.8,684.3 1816.1,687.2 1820.4,705.1C1824.7,723.0 1834.9,764.2 1838.8,780.0C1842.7,795.8 1842.0,792.6 1843.8,800.0C1845.7,807.3 1847.8,815.9 1849.8,823.9C1851.8,831.9 1853.5,839.2 1855.8,847.9C1858.1,856.5 1860.8,866.5 1863.8,875.8C1866.8,885.1 1870.1,894.4 1873.8,903.8C1877.4,913.1 1881.4,923.0 1885.7,931.7C1890.1,940.3 1894.7,947.7 1899.7,955.6C1904.7,963.6 1910.4,971.9 1915.7,979.6C1921.0,987.3 1926.3,995.2 1931.7,1001.6C1937.0,1007.9 1942.9,1013.2 1947.6,1017.5C1952.3,1021.8 1956.4,1025.2 1960.0,1027.5C1963.6,1029.8 1965.1,1029.9 1969.1,1031.3C1973.1,1032.8 1979.1,1034.1 1984.1,1036.4C1989.1,1038.6 1994.1,1040.7 1999.1,1045.1C2004.1,1049.5 2009.1,1057.2 2014.1,1062.6C2019.1,1068.0 2024.1,1073.0 2029.1,1077.6C2034.1,1082.2 2038.3,1086.0 2044.1,1090.1C2050.0,1094.3 2058.3,1099.3 2064.2,1102.7C2070.0,1106.0 2074.2,1108.5 2079.2,1110.2C2084.2,1111.8 2088.8,1112.7 2094.2,1112.7C2099.6,1112.7 2106.3,1111.4 2111.7,1110.2C2117.1,1108.9 2122.5,1107.2 2126.7,1105.2C2130.9,1103.1 2133.4,1101.8 2136.7,1097.6C2140.1,1093.5 2143.4,1087.2 2146.7,1080.1C2150.1,1073.0 2153.4,1064.7 2156.7,1055.1C2160.1,1045.5 2163.8,1033.4 2166.7,1022.6C2169.7,1011.8 2171.7,1001.3 2174.2,990.1C2176.7,978.8 2179.2,966.3 2181.7,955.0C2184.3,943.8 2187.0,930.9 2189.3,922.5C2191.5,914.2 2193.8,908.3 2195.5,905.0C2197.2,901.7 2197.8,902.1 2199.3,902.5C2200.7,902.9 2202.4,903.3 2204.3,907.5C2206.1,911.7 2208.4,918.8 2210.5,927.5C2212.6,936.3 2214.7,949.6 2216.8,960.0C2218.9,970.5 2220.9,981.7 2223.0,990.1C2225.1,998.4 2226.6,1005.5 2229.3,1010.1C2232.0,1014.7 2236.4,1015.5 2239.3,1017.6C2242.2,1019.7 2244.3,1019.7 2246.8,1022.6C2249.3,1025.5 2251.8,1031.8 2254.3,1035.1C2256.8,1038.4 2259.3,1042.6 2261.8,1042.6C2264.3,1042.6 2267.2,1040.5 2269.3,1035.1C2271.4,1029.7 2272.4,1022.2 2274.3,1010.1C2276.2,998.0 2278.7,976.7 2280.6,962.5C2282.5,948.4 2284.1,935.4 2285.6,925.0C2287.0,914.6 2288.2,910.9 2289.3,900.0C2290.5,889.1 2291.2,872.4 2292.6,859.6C2293.9,846.9 2295.9,834.7 2297.6,823.7C2299.2,812.8 2300.9,802.4 2302.6,793.8C2304.2,785.1 2305.9,777.3 2307.5,771.8C2309.2,766.4 2310.9,763.0 2312.5,760.9C2314.2,758.7 2315.9,758.4 2317.5,758.9C2319.2,759.4 2321.0,760.4 2322.5,763.9C2324.0,767.4 2325.2,773.2 2326.5,779.8C2327.8,786.5 2329.2,795.5 2330.5,803.8C2331.8,812.1 2333.2,820.4 2334.5,829.7C2335.8,839.0 2337.1,849.7 2338.5,859.6C2339.8,869.6 2341.0,879.6 2342.5,889.6C2344.0,899.6 2345.6,911.2 2347.5,919.5C2349.3,927.8 2351.8,934.7 2353.4,939.5C2355.1,944.3 2356.1,947.0 2357.4,948.5C2358.8,950.0 2360.1,950.6 2361.4,948.5C2362.8,946.3 2364.1,941.0 2365.4,935.5C2366.7,930.0 2368.1,921.2 2369.4,915.5C2370.7,909.9 2372.2,904.4 2373.4,901.6C2374.6,898.7 2375.2,898.2 2376.4,898.6C2377.6,898.9 2379.1,899.7 2380.4,903.6C2381.7,907.4 2383.0,914.2 2384.4,921.5C2385.7,928.8 2387.0,938.8 2388.4,947.5C2389.7,956.1 2390.9,964.6 2392.4,973.4C2393.8,982.2 2394.5,990.2 2396.9,1000.1C2399.3,1009.9 2403.6,1023.8 2406.9,1032.6C2410.3,1041.4 2413.6,1047.6 2416.9,1052.6C2420.3,1057.6 2423.6,1061.8 2426.9,1062.6C2430.3,1063.5 2433.8,1062.6 2436.9,1057.6C2440.1,1052.6 2443.6,1038.9 2445.7,1032.6C2447.8,1026.3 2448.8,1022.2 2449.5,1020.1" fill="none" stroke="#4d4d4d" stroke-width="5.7" stroke-linejoin="round" stroke-linecap="butt" clip-path="url(#cr)"/>
<path d="M964.5,1265.8C965.5,1265.8 963.8,1265.8 970.5,1265.8C977.3,1265.7 995.6,1266.2 1005.1,1265.3C1014.6,1264.4 1021.6,1263.1 1027.7,1260.5C1033.7,1257.9 1037.4,1255.0 1041.2,1250.0C1044.9,1245.0 1047.7,1237.4 1050.2,1230.4C1052.7,1223.4 1054.2,1216.6 1056.2,1207.9C1058.2,1199.1 1060.2,1187.8 1062.2,1177.8C1064.2,1167.8 1066.5,1156.0 1068.3,1147.7C1070.0,1139.5 1071.5,1132.9 1072.8,1128.2C1074.0,1123.4 1074.8,1119.7 1075.8,1119.2C1076.8,1118.7 1077.7,1121.2 1078.8,1125.2C1079.9,1129.2 1081.2,1135.7 1082.5,1143.2C1083.9,1150.7 1085.4,1160.8 1087.0,1170.3C1088.7,1179.8 1090.6,1191.6 1092.3,1200.4C1094.1,1209.1 1095.8,1216.6 1097.6,1222.9C1099.3,1229.2 1100.7,1233.7 1102.8,1237.9C1105.0,1242.2 1106.6,1245.2 1110.4,1248.5C1114.1,1251.7 1119.1,1255.5 1125.4,1257.5C1131.7,1259.5 1140.4,1260.5 1147.9,1260.5C1155.5,1260.5 1164.5,1258.7 1170.5,1257.5C1176.5,1256.2 1179.5,1253.0 1184.0,1253.0C1188.5,1253.0 1192.3,1256.6 1197.6,1257.5C1202.8,1258.4 1207.6,1259.0 1215.6,1258.2C1223.6,1257.5 1236.9,1254.2 1245.7,1253.0C1254.4,1251.7 1260.7,1251.0 1268.2,1250.7C1275.7,1250.5 1283.0,1251.8 1290.8,1251.5C1298.6,1251.2 1306.8,1251.3 1315.0,1249.0C1323.2,1246.7 1332.9,1242.1 1340.0,1237.8C1347.1,1233.4 1352.1,1228.6 1357.6,1222.7C1363.0,1216.9 1368.0,1207.9 1372.6,1202.7C1377.1,1197.5 1380.9,1196.5 1385.1,1191.5C1389.2,1186.5 1393.4,1179.0 1397.6,1172.7C1401.8,1166.4 1406.8,1157.5 1410.1,1153.9C1413.4,1150.4 1414.9,1151.0 1417.6,1151.4C1420.3,1151.9 1423.6,1155.6 1426.4,1156.4C1429.1,1157.3 1430.7,1158.3 1433.9,1156.4C1437.0,1154.6 1441.6,1147.7 1445.1,1145.2C1448.7,1142.7 1451.8,1142.3 1455.1,1141.4C1458.5,1140.6 1461.0,1143.3 1465.1,1140.2C1469.3,1137.1 1474.7,1129.8 1480.1,1122.7C1485.6,1115.6 1491.8,1106.4 1497.7,1097.6C1503.5,1088.9 1509.7,1078.5 1515.2,1070.1C1520.6,1061.8 1525.2,1054.1 1530.2,1047.6C1535.2,1041.1 1539.8,1036.4 1545.2,1031.3C1550.6,1026.3 1556.9,1021.1 1562.7,1017.6C1568.5,1014.0 1574.0,1012.6 1580.2,1010.1C1586.5,1007.6 1593.6,1003.7 1600.2,1002.6C1606.9,1001.4 1613.6,1003.1 1620.2,1003.1C1626.9,1003.1 1634.0,1003.7 1640.3,1002.6C1646.5,1001.5 1651.9,999.7 1657.8,996.3C1663.6,993.0 1669.9,988.2 1675.3,982.6C1680.7,976.9 1685.7,970.9 1690.3,962.5C1694.9,954.2 1699.7,940.3 1702.8,932.5C1705.9,924.7 1706.8,922.1 1709.0,915.6C1711.3,909.1 1713.9,900.7 1716.3,893.7C1718.8,886.6 1721.2,879.5 1723.7,873.2C1726.1,866.8 1728.8,860.2 1731.0,855.6C1733.2,851.0 1735.0,847.8 1736.8,845.4C1738.7,842.9 1740.4,841.8 1742.0,841.0C1743.5,840.1 1744.9,839.8 1746.3,840.2C1747.8,840.7 1749.3,841.6 1750.7,843.9C1752.2,846.2 1753.7,849.8 1755.1,854.2C1756.6,858.5 1758.1,864.4 1759.5,870.3C1761.0,876.1 1762.4,882.7 1763.9,889.3C1765.4,895.9 1767.0,903.4 1768.3,909.8C1769.6,916.1 1770.7,922.7 1772.0,927.3C1773.2,932.0 1774.4,934.6 1775.6,937.6C1776.8,940.5 1778.1,941.7 1779.3,944.9C1780.5,948.1 1781.5,950.1 1782.9,956.6C1784.4,963.0 1786.3,974.4 1787.9,983.6C1789.6,992.7 1791.3,1002.6 1792.9,1011.5C1794.6,1020.5 1796.1,1030.5 1797.9,1037.5C1799.8,1044.5 1801.6,1048.8 1803.9,1053.5C1806.2,1058.1 1809.7,1061.0 1811.9,1065.4C1814.1,1069.9 1815.1,1075.0 1816.9,1080.0C1818.7,1085.0 1820.2,1087.6 1822.9,1095.1C1825.6,1102.7 1829.2,1116.0 1832.9,1125.2C1836.7,1134.3 1841.1,1142.7 1845.4,1150.2C1849.8,1157.7 1854.7,1163.5 1859.0,1170.2C1863.4,1176.9 1866.9,1184.4 1871.5,1190.2C1876.1,1196.1 1880.3,1200.6 1886.5,1205.2C1892.8,1209.8 1902.0,1213.6 1909.0,1217.7C1916.1,1221.9 1922.4,1226.9 1929.1,1230.2C1935.7,1233.6 1942.4,1236.1 1949.1,1237.8C1955.7,1239.4 1962.4,1239.8 1969.1,1240.3C1975.8,1240.8 1982.4,1240.1 1989.1,1240.8C1995.8,1241.4 2002.4,1243.3 2009.1,1244.0C2015.8,1244.8 2022.5,1245.3 2029.1,1245.3C2035.8,1245.3 2042.5,1244.6 2049.2,1244.0C2055.8,1243.4 2062.9,1243.0 2069.2,1241.5C2075.4,1240.0 2080.8,1238.0 2086.7,1235.3C2092.5,1232.5 2097.9,1229.0 2104.2,1225.2C2110.4,1221.5 2117.5,1216.9 2124.2,1212.7C2130.9,1208.6 2138.4,1204.4 2144.2,1200.2C2150.1,1196.1 2154.6,1192.7 2159.2,1187.7C2163.8,1182.7 2168.0,1176.9 2171.7,1170.2C2175.5,1163.5 2178.4,1154.8 2181.7,1147.7C2185.1,1140.6 2188.8,1131.8 2191.8,1127.7C2194.7,1123.5 2196.8,1122.7 2199.3,1122.7C2201.8,1122.7 2204.3,1123.9 2206.8,1127.7C2209.3,1131.4 2211.8,1139.3 2214.3,1145.2C2216.8,1151.0 2219.5,1158.3 2221.8,1162.7C2224.1,1167.1 2226.2,1169.8 2228.0,1171.5C2229.9,1173.1 2231.2,1173.3 2233.0,1172.7C2234.9,1172.1 2236.6,1170.6 2239.3,1167.7C2242.0,1164.8 2245.5,1159.2 2249.3,1155.2C2253.1,1151.2 2258.1,1147.7 2261.8,1143.9C2265.6,1140.2 2268.5,1137.9 2271.8,1132.7C2275.2,1127.5 2278.5,1121.4 2281.8,1112.7C2285.2,1103.9 2288.9,1092.2 2291.8,1080.1C2294.8,1068.0 2296.8,1055.5 2299.3,1040.1C2301.8,1024.7 2304.8,1004.3 2306.8,987.6C2308.9,970.8 2309.4,957.5 2311.5,939.5C2313.6,921.5 2317.2,895.6 2319.5,879.6C2321.8,863.6 2323.3,852.5 2325.5,843.7C2327.7,834.9 2330.3,828.1 2332.5,826.7C2334.7,825.4 2336.8,830.2 2338.5,835.7C2340.1,841.2 2341.1,850.7 2342.5,859.6C2343.8,868.6 2345.1,878.9 2346.5,889.6C2347.8,900.2 2349.1,912.2 2350.4,923.5C2351.8,934.8 2353.1,947.5 2354.4,957.4C2355.8,967.4 2357.4,976.3 2358.4,983.4C2359.5,990.5 2359.6,996.0 2360.6,1000.1C2361.7,1004.2 2363.2,1008.9 2364.9,1008.1C2366.6,1007.2 2368.6,1000.6 2370.6,995.1C2372.6,989.6 2375.0,975.9 2376.9,975.1C2378.8,974.2 2380.2,981.7 2381.9,990.1C2383.6,998.4 2384.8,1008.8 2386.9,1025.1C2389.0,1041.4 2391.5,1069.7 2394.4,1087.6C2397.3,1105.6 2400.7,1120.2 2404.4,1132.7C2408.2,1145.2 2412.3,1154.4 2416.9,1162.7C2421.5,1171.0 2427.1,1178.1 2431.9,1182.7C2436.7,1187.3 2442.8,1188.8 2445.7,1190.2C2448.6,1191.7 2448.8,1191.3 2449.5,1191.5" fill="none" stroke="#ff0000" stroke-width="5.7" stroke-linejoin="round" stroke-linecap="butt" clip-path="url(#cr)"/>
<path d="M964.5,1244.7C965.5,1244.7 965.0,1244.7 970.5,1244.7C976.0,1244.8 990.6,1245.1 997.6,1245.0C1004.6,1244.9 1008.4,1244.7 1012.6,1244.3C1016.9,1243.8 1019.9,1243.5 1023.1,1242.5C1026.4,1241.4 1029.2,1240.7 1032.2,1237.9C1035.2,1235.2 1038.7,1230.4 1041.2,1225.9C1043.7,1221.4 1045.2,1217.1 1047.2,1210.9C1049.2,1204.6 1051.2,1197.1 1053.2,1188.3C1055.2,1179.6 1057.2,1167.3 1059.2,1158.3C1061.2,1149.2 1063.4,1140.5 1065.2,1134.2C1067.1,1127.9 1069.1,1123.5 1070.5,1120.7C1071.9,1117.8 1072.1,1115.7 1073.5,1116.9C1074.9,1118.2 1077.2,1121.8 1078.8,1128.2C1080.4,1134.6 1081.7,1145.7 1083.3,1155.2C1084.9,1164.8 1086.7,1175.8 1088.6,1185.3C1090.4,1194.8 1092.4,1205.4 1094.6,1212.4C1096.7,1219.4 1098.7,1223.8 1101.3,1227.4C1104.0,1231.1 1106.3,1232.2 1110.4,1234.2C1114.4,1236.2 1119.1,1238.2 1125.4,1239.4C1131.7,1240.7 1141.7,1241.7 1147.9,1241.7C1154.2,1241.7 1158.7,1240.6 1163.0,1239.4C1167.2,1238.3 1170.0,1236.1 1173.5,1234.9C1177.0,1233.8 1180.5,1232.6 1184.0,1232.7C1187.5,1232.8 1191.8,1234.8 1194.6,1235.7C1197.3,1236.6 1195.8,1237.6 1200.6,1237.9C1205.3,1238.3 1216.9,1238.7 1223.1,1237.9C1229.4,1237.2 1233.1,1235.9 1238.2,1233.4C1243.2,1230.9 1248.9,1225.0 1253.2,1222.9C1257.4,1220.8 1258.7,1221.0 1263.7,1220.7C1268.7,1220.3 1278.7,1221.0 1283.3,1220.7C1287.8,1220.3 1287.6,1219.7 1290.8,1218.4C1294.0,1217.1 1298.5,1216.2 1302.5,1212.7C1306.5,1209.3 1310.8,1203.6 1315.0,1197.7C1319.2,1191.9 1322.9,1185.2 1327.5,1177.7C1332.1,1170.2 1337.5,1160.2 1342.5,1152.7C1347.5,1145.2 1353.0,1140.6 1357.6,1132.7C1362.1,1124.8 1365.5,1114.7 1370.1,1105.2C1374.6,1095.6 1380.5,1084.7 1385.1,1075.1C1389.7,1065.5 1393.8,1057.2 1397.6,1047.6C1401.3,1038.0 1404.9,1025.5 1407.6,1017.6C1410.2,1009.6 1411.7,1004.9 1413.4,1000.0C1415.1,995.0 1416.1,991.3 1417.8,987.8C1419.5,984.3 1421.5,981.1 1423.7,979.0C1425.9,977.0 1428.1,976.2 1431.0,975.4C1433.9,974.5 1438.1,974.5 1441.2,973.9C1444.4,973.3 1447.6,972.2 1450.0,971.7C1452.4,971.2 1453.9,970.9 1455.9,971.0C1457.8,971.1 1459.8,971.5 1461.7,972.4C1463.7,973.4 1465.6,975.6 1467.6,976.8C1469.5,978.1 1471.3,979.3 1473.4,979.8C1475.5,980.3 1477.6,980.1 1480.0,979.8C1482.4,979.4 1483.9,980.4 1487.6,977.6C1491.4,974.7 1496.8,968.4 1502.7,962.5C1508.5,956.7 1515.6,949.2 1522.7,942.5C1529.8,935.9 1538.1,927.9 1545.2,922.5C1552.3,917.1 1559.0,913.9 1565.2,910.0C1571.5,906.1 1577.7,901.9 1582.7,899.0C1587.7,896.2 1590.6,894.3 1595.2,892.8C1599.8,891.2 1604.8,890.7 1610.2,889.8C1615.7,888.9 1621.9,888.2 1627.8,887.3C1633.6,886.3 1639.8,885.4 1645.3,884.0C1650.7,882.6 1656.1,881.1 1660.3,879.0C1664.4,876.9 1667.4,875.5 1670.3,871.5C1673.2,867.5 1675.3,860.5 1677.8,855.2C1680.3,850.0 1682.4,845.0 1685.3,840.2C1688.2,835.4 1693.1,829.3 1695.3,826.5C1697.6,823.7 1696.5,825.6 1698.8,823.4C1701.1,821.2 1705.9,816.8 1709.0,813.2C1712.2,809.5 1715.1,806.1 1717.8,801.5C1720.5,796.8 1722.7,791.0 1725.1,785.4C1727.6,779.8 1730.0,773.2 1732.4,767.8C1734.9,762.4 1737.6,756.8 1739.8,753.2C1742.0,749.5 1743.7,747.4 1745.6,745.9C1747.6,744.3 1749.6,743.5 1751.5,743.7C1753.3,743.8 1754.9,744.3 1756.6,746.6C1758.3,748.9 1760.1,753.0 1761.7,757.6C1763.3,762.1 1764.6,768.1 1766.1,773.7C1767.6,779.3 1769.2,786.8 1770.5,791.2C1771.8,795.6 1772.9,798.2 1774.2,800.0C1775.4,801.8 1776.6,802.7 1777.8,802.2C1779.0,801.7 1780.2,799.6 1781.5,797.1C1782.7,794.5 1784.0,789.4 1785.1,786.8C1786.2,784.3 1787.1,782.7 1788.1,781.7C1789.0,780.7 1789.9,780.7 1791.0,781.0C1792.1,781.2 1793.4,781.5 1794.6,783.2C1795.9,784.9 1797.0,787.4 1798.3,791.2C1799.6,795.0 1801.0,800.2 1802.7,805.9C1804.4,811.5 1806.6,818.8 1808.5,824.9C1810.5,831.0 1812.4,836.3 1814.4,842.4C1816.3,848.5 1818.3,854.9 1820.3,861.5C1822.2,868.1 1824.2,875.1 1826.1,882.0C1828.1,888.8 1830.3,896.1 1832.0,902.4C1833.7,908.8 1835.0,914.9 1836.3,920.0C1837.7,925.1 1838.4,927.6 1840.0,933.2C1841.6,938.8 1843.2,946.2 1845.8,953.7C1848.5,961.1 1852.5,970.0 1855.8,977.6C1859.1,985.3 1862.1,992.2 1865.8,999.6C1869.4,1006.9 1873.8,1014.9 1877.8,1021.5C1881.8,1028.2 1884.1,1031.4 1889.7,1039.5C1895.4,1047.6 1905.8,1062.5 1911.5,1070.1C1917.3,1077.7 1919.5,1080.1 1924.1,1085.1C1928.6,1090.1 1934.1,1096.0 1939.1,1100.2C1944.1,1104.3 1949.1,1107.4 1954.1,1110.2C1959.1,1112.9 1963.3,1114.7 1969.1,1116.4C1974.9,1118.1 1983.3,1117.7 1989.1,1120.2C1994.9,1122.7 1998.3,1127.3 2004.1,1131.4C2010.0,1135.6 2017.5,1141.2 2024.1,1145.2C2030.8,1149.1 2037.5,1152.3 2044.1,1155.2C2050.8,1158.1 2057.1,1161.0 2064.2,1162.7C2071.3,1164.4 2079.6,1165.4 2086.7,1165.2C2093.8,1165.0 2100.4,1163.1 2106.7,1161.4C2112.9,1159.8 2118.8,1158.3 2124.2,1155.2C2129.6,1152.1 2134.6,1147.7 2139.2,1142.7C2143.8,1137.7 2148.0,1131.8 2151.7,1125.2C2155.5,1118.5 2158.4,1111.4 2161.7,1102.7C2165.1,1093.9 2168.8,1082.6 2171.7,1072.6C2174.7,1062.6 2176.7,1052.6 2179.2,1042.6C2181.7,1032.6 2184.5,1020.3 2186.8,1012.6C2189.0,1004.9 2190.9,1000.0 2193.0,996.3C2195.1,992.7 2197.4,991.5 2199.3,990.6C2201.1,989.6 2202.6,989.4 2204.3,990.6C2205.9,991.7 2207.2,992.2 2209.3,997.6C2211.4,1002.9 2214.3,1013.4 2216.8,1022.6C2219.3,1031.8 2222.0,1044.3 2224.3,1052.6C2226.6,1061.0 2228.5,1067.8 2230.5,1072.6C2232.6,1077.4 2234.1,1079.1 2236.8,1081.4C2239.5,1083.7 2243.9,1084.5 2246.8,1086.4C2249.7,1088.3 2251.8,1091.0 2254.3,1092.6C2256.8,1094.3 2259.3,1097.0 2261.8,1096.4C2264.3,1095.8 2266.8,1094.5 2269.3,1088.9C2271.8,1083.3 2274.3,1074.5 2276.8,1062.6C2279.3,1050.7 2281.8,1033.9 2284.3,1017.6C2286.8,1001.3 2289.3,981.3 2291.8,965.0C2294.3,948.8 2297.1,932.6 2299.3,920.0C2301.6,907.4 2303.5,898.0 2305.5,889.6C2307.6,881.2 2309.5,874.0 2311.5,869.6C2313.5,865.3 2315.5,863.6 2317.5,863.6C2319.5,863.6 2321.5,865.3 2323.5,869.6C2325.5,874.0 2327.5,881.9 2329.5,889.6C2331.5,897.2 2333.5,905.5 2335.5,915.5C2337.5,925.5 2339.5,938.8 2341.5,949.5C2343.5,960.1 2345.3,967.6 2347.5,979.4C2349.6,991.2 2352.2,1010.6 2354.4,1020.1C2356.6,1029.6 2358.3,1036.4 2360.6,1036.4C2362.9,1036.4 2365.4,1027.0 2368.1,1020.1C2370.8,1013.2 2373.8,991.7 2376.9,995.1C2380.0,998.4 2383.6,1026.8 2386.9,1040.1C2390.2,1053.4 2393.6,1065.5 2396.9,1075.1C2400.2,1084.7 2403.2,1091.0 2406.9,1097.6C2410.7,1104.3 2415.3,1111.0 2419.4,1115.2C2423.6,1119.3 2427.6,1123.1 2431.9,1122.7C2436.3,1122.3 2442.8,1115.0 2445.7,1112.7C2448.6,1110.4 2448.8,1109.5 2449.5,1108.9" fill="none" stroke="#1265dc" stroke-width="5.7" stroke-linejoin="round" stroke-linecap="butt" clip-path="url(#cr)"/>
<path d="M964.5,1237.2C965.5,1237.2 965.0,1237.1 970.5,1237.2C976.0,1237.3 989.8,1238.0 997.6,1237.9C1005.4,1237.9 1012.1,1237.8 1017.1,1236.9C1022.1,1236.0 1024.4,1234.8 1027.7,1232.7C1030.9,1230.6 1034.2,1227.8 1036.7,1224.4C1039.2,1221.0 1040.7,1217.9 1042.7,1212.4C1044.7,1206.9 1047.0,1198.3 1048.7,1191.3C1050.5,1184.3 1051.7,1177.5 1053.2,1170.3C1054.7,1163.0 1056.2,1154.7 1057.7,1147.7C1059.2,1140.7 1060.7,1133.2 1062.2,1128.2C1063.7,1123.2 1065.4,1119.9 1066.8,1117.7C1068.1,1115.5 1069.3,1114.7 1070.5,1115.0C1071.8,1115.2 1072.9,1115.5 1074.3,1119.2C1075.6,1122.9 1077.3,1129.9 1078.8,1137.2C1080.3,1144.5 1081.8,1154.2 1083.3,1162.8C1084.8,1171.3 1086.0,1180.6 1087.8,1188.3C1089.6,1196.1 1091.6,1204.2 1093.8,1209.4C1096.1,1214.5 1098.6,1216.8 1101.3,1219.1C1104.1,1221.5 1106.3,1222.2 1110.4,1223.7C1114.4,1225.2 1117.9,1227.2 1125.4,1228.2C1132.9,1229.2 1147.9,1230.0 1155.5,1229.7C1163.0,1229.3 1166.0,1227.3 1170.5,1225.9C1175.0,1224.5 1177.5,1221.5 1182.5,1221.4C1187.5,1221.3 1195.1,1224.5 1200.6,1225.2C1206.1,1225.8 1210.6,1226.0 1215.6,1225.2C1220.6,1224.3 1225.6,1223.0 1230.6,1219.9C1235.6,1216.8 1241.2,1209.6 1245.7,1206.4C1250.2,1203.1 1252.7,1201.4 1257.7,1200.4C1262.7,1199.4 1270.2,1201.4 1275.7,1200.4C1281.3,1199.4 1286.7,1196.9 1290.8,1194.3C1294.8,1191.8 1296.8,1189.2 1300.0,1185.2C1303.2,1181.2 1306.7,1176.5 1310.0,1170.2C1313.4,1163.9 1316.7,1156.0 1320.0,1147.7C1323.4,1139.3 1326.7,1129.3 1330.0,1120.2C1333.4,1111.0 1336.7,1101.4 1340.0,1092.6C1343.4,1083.9 1346.7,1076.0 1350.0,1067.6C1353.4,1059.3 1356.7,1052.6 1360.1,1042.6C1363.4,1032.6 1368.0,1014.7 1370.1,1007.6C1372.1,1000.5 1371.1,1006.2 1372.4,1000.0C1373.8,993.7 1376.3,978.9 1378.3,970.3C1380.2,961.6 1382.2,956.1 1384.1,948.3C1386.1,940.5 1388.3,931.5 1390.0,923.4C1391.7,915.4 1392.9,908.1 1394.4,900.0C1395.9,892.0 1397.3,883.4 1398.8,875.1C1400.2,866.8 1401.8,858.1 1403.2,850.2C1404.5,842.4 1405.6,834.9 1406.8,828.3C1408.1,821.7 1409.3,815.4 1410.5,810.7C1411.7,806.1 1412.9,802.9 1414.2,800.5C1415.4,798.0 1416.6,796.5 1417.8,796.1C1419.0,795.7 1420.2,796.1 1421.5,798.3C1422.7,800.5 1423.9,805.0 1425.1,809.3C1426.3,813.5 1427.6,819.3 1428.8,823.9C1430.0,828.5 1431.1,833.4 1432.4,837.1C1433.8,840.7 1435.1,843.7 1436.8,845.9C1438.5,848.1 1440.7,849.6 1442.7,850.2C1444.6,850.9 1446.3,850.7 1448.5,850.0C1450.7,849.2 1453.2,847.8 1455.9,845.9C1458.5,844.0 1461.7,841.2 1464.6,838.5C1467.6,835.9 1470.9,832.4 1473.4,829.8C1476.0,827.1 1478.1,824.9 1480.0,822.4C1482.0,820.0 1481.4,819.8 1485.1,815.2C1488.9,810.7 1496.8,801.9 1502.7,795.2C1508.5,788.5 1514.8,781.4 1520.2,775.2C1525.6,768.9 1530.2,762.7 1535.2,757.7C1540.2,752.7 1545.2,748.9 1550.2,745.2C1555.2,741.4 1560.2,738.3 1565.2,735.2C1570.2,732.0 1576.0,729.3 1580.2,726.4C1584.4,723.5 1586.9,721.0 1590.2,717.6C1593.6,714.3 1596.9,709.3 1600.2,706.4C1603.6,703.5 1606.5,702.0 1610.2,700.1C1614.0,698.3 1617.7,697.4 1622.7,695.1C1627.8,692.8 1634.4,689.5 1640.3,686.4C1646.1,683.2 1652.4,679.3 1657.8,676.4C1663.2,673.4 1668.6,671.6 1672.8,668.9C1677.0,666.1 1679.9,664.5 1682.8,660.1C1685.7,655.7 1688.0,648.4 1690.3,642.6C1692.6,636.7 1694.5,629.7 1696.6,625.1C1698.6,620.5 1699.7,618.8 1702.8,615.1C1705.9,611.3 1711.1,607.1 1715.3,602.6C1719.5,598.0 1724.1,592.1 1727.8,587.5C1731.6,583.0 1735.1,578.0 1737.8,575.0C1740.5,572.1 1742.2,570.9 1744.1,570.0C1746.0,569.1 1747.2,568.5 1749.1,569.5C1751.0,570.6 1753.5,572.9 1755.3,576.3C1757.2,579.7 1758.7,584.4 1760.4,590.0C1762.0,595.7 1763.7,604.0 1765.4,610.1C1767.0,616.1 1769.1,623.0 1770.4,626.3C1771.6,629.7 1771.6,630.3 1772.9,630.1C1774.1,629.9 1776.4,627.6 1777.9,625.1C1779.3,622.6 1780.4,617.4 1781.6,615.1C1782.9,612.8 1784.1,611.1 1785.4,611.3C1786.6,611.5 1787.9,613.2 1789.1,616.3C1790.4,619.4 1791.4,623.6 1792.9,630.1C1794.3,636.5 1795.8,645.1 1797.9,655.1C1800.0,665.1 1802.5,677.6 1805.4,690.1C1808.3,702.6 1811.8,715.2 1815.4,730.2C1819.0,745.1 1824.3,768.4 1826.9,780.0C1829.4,791.6 1829.2,792.3 1830.9,800.0C1832.5,807.6 1834.7,816.6 1836.8,825.9C1839.0,835.2 1841.3,846.2 1843.8,855.8C1846.3,865.5 1848.8,873.8 1851.8,883.8C1854.8,893.8 1858.5,906.4 1861.8,915.7C1865.1,925.0 1868.1,931.7 1871.8,939.7C1875.4,947.7 1879.4,956.0 1883.8,963.6C1888.1,971.3 1893.1,978.9 1897.7,985.6C1902.4,992.2 1906.7,996.9 1911.7,1003.6C1916.7,1010.2 1922.3,1019.2 1927.7,1025.5C1933.0,1031.8 1938.2,1037.2 1943.6,1041.5C1949.0,1045.8 1955.8,1049.2 1960.0,1051.5C1964.2,1053.7 1964.2,1053.9 1969.1,1055.1C1973.9,1056.4 1983.3,1056.4 1989.1,1058.9C1994.9,1061.4 1998.3,1065.1 2004.1,1070.1C2010.0,1075.1 2017.5,1083.5 2024.1,1088.9C2030.8,1094.3 2037.5,1098.3 2044.1,1102.7C2050.8,1107.0 2057.5,1111.8 2064.2,1115.2C2070.8,1118.5 2077.5,1121.4 2084.2,1122.7C2090.8,1123.9 2097.9,1123.5 2104.2,1122.7C2110.4,1121.8 2116.3,1120.6 2121.7,1117.7C2127.1,1114.7 2132.1,1111.0 2136.7,1105.2C2141.3,1099.3 2145.5,1091.0 2149.2,1082.6C2153.0,1074.3 2155.9,1065.5 2159.2,1055.1C2162.6,1044.7 2166.3,1031.8 2169.2,1020.1C2172.2,1008.4 2174.2,997.2 2176.7,985.1C2179.2,973.0 2182.0,958.4 2184.3,947.5C2186.5,936.7 2188.6,927.9 2190.5,920.0C2192.4,912.1 2193.9,904.6 2195.5,900.0C2197.1,895.4 2198.3,892.5 2200.0,892.5C2201.7,892.5 2203.6,894.6 2205.5,900.0C2207.5,905.4 2209.7,915.4 2211.8,925.0C2213.9,934.6 2215.9,947.1 2218.0,957.5C2220.1,968.0 2222.4,979.2 2224.3,987.6C2226.2,995.9 2227.4,1002.6 2229.3,1007.6C2231.2,1012.6 2233.0,1014.7 2235.5,1017.6C2238.0,1020.5 2241.6,1020.9 2244.3,1025.1C2247.0,1029.3 2249.5,1037.2 2251.8,1042.6C2254.1,1048.0 2256.2,1054.3 2258.1,1057.6C2259.9,1061.0 2261.2,1063.0 2263.1,1062.6C2264.9,1062.2 2267.2,1060.5 2269.3,1055.1C2271.4,1049.7 2273.5,1042.2 2275.6,1030.1C2277.7,1018.0 2279.9,998.0 2281.8,982.6C2283.7,967.1 2285.2,951.3 2286.8,937.5C2288.5,923.8 2290.5,913.0 2291.8,900.0C2293.1,887.0 2293.3,872.4 2294.6,859.6C2295.9,846.9 2297.9,834.4 2299.6,823.7C2301.2,813.1 2302.9,803.8 2304.5,795.8C2306.2,787.8 2308.0,780.7 2309.5,775.8C2311.0,771.0 2312.3,768.7 2313.5,766.9C2314.8,765.0 2315.8,764.5 2317.1,764.9C2318.5,765.2 2320.1,765.7 2321.5,768.8C2322.9,772.0 2324.2,777.3 2325.5,783.8C2326.8,790.3 2328.2,799.1 2329.5,807.8C2330.8,816.4 2332.2,826.1 2333.5,835.7C2334.8,845.3 2336.1,855.7 2337.5,865.6C2338.8,875.6 2340.1,884.9 2341.5,895.6C2342.8,906.2 2344.1,918.9 2345.5,929.5C2346.8,940.1 2348.1,951.4 2349.5,959.4C2350.8,967.4 2351.9,973.9 2353.4,977.4C2354.9,980.9 2356.8,981.0 2358.4,980.4C2360.1,979.7 2361.9,978.2 2363.4,973.4C2364.9,968.6 2366.1,959.1 2367.4,951.4C2368.7,943.8 2369.9,933.3 2371.4,927.5C2372.9,921.7 2374.7,916.9 2376.4,916.5C2378.1,916.2 2379.9,920.3 2381.4,925.5C2382.9,930.7 2384.0,939.5 2385.4,947.5C2386.7,955.4 2387.4,963.4 2389.4,973.4C2391.3,983.4 2394.0,996.5 2396.9,1007.6C2399.8,1018.7 2403.6,1031.3 2406.9,1040.1C2410.3,1048.9 2413.2,1054.9 2416.9,1060.1C2420.7,1065.3 2425.7,1070.5 2429.4,1071.4C2433.2,1072.2 2436.7,1068.7 2439.4,1065.1C2442.2,1061.6 2444.0,1054.3 2445.7,1050.1C2447.4,1045.9 2448.8,1041.8 2449.5,1040.1" fill="none" stroke="#2ea563" stroke-width="5.7" stroke-linejoin="round" stroke-linecap="butt" clip-path="url(#cr)"/>
<path d="M964.5,1261.2C965.5,1261.2 965.0,1261.3 970.5,1261.2C976.0,1261.2 989.3,1261.3 997.6,1260.8C1005.9,1260.3 1014.4,1259.8 1020.1,1258.2C1025.9,1256.7 1028.7,1254.6 1032.2,1251.5C1035.7,1248.3 1038.7,1244.0 1041.2,1239.4C1043.7,1234.9 1045.2,1230.7 1047.2,1224.4C1049.2,1218.1 1051.2,1210.6 1053.2,1201.9C1055.2,1193.1 1057.2,1181.3 1059.2,1171.8C1061.2,1162.3 1063.4,1152.5 1065.2,1144.7C1067.1,1137.0 1068.9,1129.7 1070.5,1125.2C1072.1,1120.7 1073.5,1117.7 1075.0,1117.7C1076.5,1117.7 1078.2,1120.9 1079.5,1125.2C1080.9,1129.4 1081.9,1135.7 1083.3,1143.2C1084.7,1150.7 1086.2,1160.8 1087.8,1170.3C1089.4,1179.8 1091.3,1191.6 1093.1,1200.4C1094.8,1209.1 1096.4,1216.6 1098.3,1222.9C1100.2,1229.2 1101.8,1233.7 1104.3,1237.9C1106.8,1242.2 1109.9,1245.7 1113.4,1248.5C1116.9,1251.2 1119.6,1253.2 1125.4,1254.5C1131.2,1255.8 1141.7,1256.3 1147.9,1256.3C1154.2,1256.3 1158.7,1255.8 1163.0,1254.5C1167.2,1253.2 1170.0,1250.2 1173.5,1248.5C1177.0,1246.7 1180.5,1244.0 1184.0,1244.0C1187.5,1244.0 1191.3,1247.1 1194.6,1248.5C1197.8,1249.8 1198.8,1251.5 1203.6,1252.2C1208.3,1253.0 1216.1,1253.2 1223.1,1253.0C1230.1,1252.7 1239.4,1252.0 1245.7,1250.7C1251.9,1249.5 1254.4,1246.6 1260.7,1245.5C1267.0,1244.3 1278.2,1244.3 1283.3,1244.0C1288.3,1243.6 1286.3,1244.2 1290.8,1243.2C1295.2,1242.2 1303.9,1240.7 1310.0,1237.8C1316.1,1234.8 1321.7,1230.2 1327.5,1225.2C1333.4,1220.2 1339.6,1214.0 1345.0,1207.7C1350.5,1201.5 1355.5,1195.2 1360.1,1187.7C1364.6,1180.2 1368.4,1169.8 1372.6,1162.7C1376.7,1155.6 1381.3,1151.4 1385.1,1145.2C1388.8,1138.9 1391.7,1133.1 1395.1,1125.2C1398.4,1117.2 1402.2,1105.2 1405.1,1097.6C1408.0,1090.1 1410.3,1083.7 1412.6,1080.1C1414.9,1076.6 1416.6,1075.8 1418.8,1076.4C1421.1,1077.0 1424.1,1081.8 1426.4,1083.9C1428.6,1086.0 1429.5,1089.9 1432.6,1088.9C1435.7,1087.8 1439.7,1080.3 1445.1,1077.6C1450.5,1074.9 1459.3,1075.5 1465.1,1072.6C1471.0,1069.7 1475.1,1065.5 1480.1,1060.1C1485.1,1054.7 1489.7,1048.0 1495.2,1040.1C1500.6,1032.2 1506.8,1021.3 1512.7,1012.6C1518.5,1003.8 1524.3,995.1 1530.2,987.6C1536.0,980.1 1541.9,973.0 1547.7,967.6C1553.5,962.1 1559.4,958.4 1565.2,955.0C1571.0,951.7 1576.9,950.2 1582.7,947.5C1588.6,944.8 1594.0,940.5 1600.2,938.8C1606.5,937.0 1613.6,937.7 1620.2,937.0C1626.9,936.4 1634.4,936.2 1640.3,935.0C1646.1,933.9 1650.3,932.5 1655.3,930.0C1660.3,927.5 1665.7,924.2 1670.3,920.0C1674.9,915.8 1679.5,910.8 1682.8,905.0C1686.1,899.2 1686.7,893.5 1690.3,885.3C1693.9,877.0 1701.0,863.7 1704.6,855.6C1708.2,847.5 1709.5,842.7 1712.0,836.6C1714.4,830.5 1716.8,824.4 1719.3,819.0C1721.7,813.7 1724.1,808.5 1726.6,804.4C1729.0,800.2 1731.7,796.7 1733.9,794.1C1736.1,791.6 1737.9,790.1 1739.8,789.0C1741.6,787.9 1743.2,787.4 1744.9,787.6C1746.6,787.7 1748.4,788.2 1750.0,789.8C1751.6,791.3 1752.9,793.7 1754.4,797.1C1755.9,800.5 1757.3,805.1 1758.8,810.2C1760.2,815.4 1761.7,821.2 1763.2,827.8C1764.6,834.4 1766.2,843.2 1767.6,849.8C1768.9,856.3 1770.0,863.2 1771.2,867.3C1772.4,871.5 1773.5,872.8 1774.9,874.6C1776.2,876.5 1777.8,877.3 1779.3,878.3C1780.7,879.3 1782.4,878.9 1783.7,880.5C1784.9,882.1 1785.5,884.4 1786.6,887.8C1787.7,891.2 1789.0,895.6 1790.2,901.0C1791.5,906.3 1792.7,913.4 1793.9,920.0C1795.1,926.6 1796.3,933.8 1797.6,940.5C1798.8,947.2 1798.8,953.4 1801.2,960.0C1803.6,966.5 1809.3,974.7 1811.9,979.6C1814.5,984.5 1815.2,984.6 1816.9,989.6C1818.5,994.6 1820.0,1001.9 1821.9,1009.5C1823.7,1017.2 1825.9,1027.2 1827.9,1035.5C1829.9,1043.8 1831.9,1052.0 1833.9,1059.4C1835.8,1066.9 1835.6,1070.7 1839.8,1080.0C1844.0,1089.3 1853.7,1105.5 1859.0,1115.2C1864.3,1124.8 1866.9,1130.6 1871.5,1137.7C1876.1,1144.8 1881.9,1152.7 1886.5,1157.7C1891.1,1162.7 1894.9,1164.8 1899.0,1167.7C1903.2,1170.6 1907.4,1171.9 1911.5,1175.2C1915.7,1178.5 1919.5,1183.8 1924.1,1187.7C1928.6,1191.7 1934.1,1196.3 1939.1,1199.0C1944.1,1201.7 1949.1,1202.7 1954.1,1204.0C1959.1,1205.2 1963.3,1205.9 1969.1,1206.5C1974.9,1207.0 1983.3,1206.2 1989.1,1207.2C1994.9,1208.3 1998.3,1210.6 2004.1,1212.7C2010.0,1214.9 2017.5,1218.4 2024.1,1220.2C2030.8,1222.1 2037.5,1223.2 2044.1,1224.0C2050.8,1224.8 2057.9,1225.2 2064.2,1225.2C2070.4,1225.2 2075.8,1225.5 2081.7,1224.0C2087.5,1222.5 2092.9,1219.6 2099.2,1216.5C2105.4,1213.4 2112.9,1209.4 2119.2,1205.2C2125.5,1201.1 2131.3,1196.7 2136.7,1191.5C2142.1,1186.3 2147.1,1180.8 2151.7,1174.0C2156.3,1167.1 2160.5,1159.6 2164.2,1150.2C2168.0,1140.8 2170.9,1129.3 2174.2,1117.7C2177.6,1106.0 2181.3,1090.1 2184.3,1080.1C2187.2,1070.1 2189.3,1063.5 2191.8,1057.6C2194.3,1051.8 2197.2,1047.3 2199.3,1045.1C2201.3,1042.9 2202.6,1043.4 2204.3,1044.6C2205.9,1045.9 2207.2,1047.1 2209.3,1052.6C2211.4,1058.1 2214.3,1068.9 2216.8,1077.6C2219.3,1086.4 2222.0,1098.3 2224.3,1105.2C2226.6,1112.0 2228.7,1116.1 2230.5,1118.9C2232.4,1121.7 2233.7,1122.0 2235.5,1122.2C2237.4,1122.4 2239.7,1120.7 2241.8,1120.2C2243.9,1119.6 2246.0,1118.3 2248.0,1118.9C2250.1,1119.5 2252.0,1122.0 2254.3,1123.9C2256.6,1125.8 2259.7,1129.1 2261.8,1130.2C2263.9,1131.2 2264.7,1131.8 2266.8,1130.2C2268.9,1128.5 2271.8,1125.6 2274.3,1120.2C2276.8,1114.7 2279.3,1107.7 2281.8,1097.6C2284.3,1087.6 2286.8,1075.1 2289.3,1060.1C2291.8,1045.1 2294.8,1024.4 2296.8,1007.6C2298.9,990.8 2299.8,974.1 2301.6,959.4C2303.3,944.8 2305.5,932.8 2307.5,919.5C2309.5,906.2 2311.5,890.9 2313.5,879.6C2315.5,868.3 2317.5,858.3 2319.5,851.7C2321.5,845.0 2323.7,840.4 2325.5,839.7C2327.3,839.0 2329.0,842.7 2330.5,847.7C2332.0,852.7 2333.2,861.6 2334.5,869.6C2335.8,877.6 2337.1,886.3 2338.5,895.6C2339.8,904.9 2341.1,915.5 2342.5,925.5C2343.8,935.5 2345.0,945.8 2346.5,955.4C2348.0,965.1 2350.1,972.6 2351.4,983.4C2352.8,994.2 2352.8,1010.6 2354.4,1020.1C2355.9,1029.5 2358.3,1041.4 2360.6,1040.1C2362.9,1038.9 2366.1,1023.0 2368.1,1012.6C2370.2,1002.2 2371.7,985.9 2373.1,977.6C2374.6,969.2 2375.2,962.1 2376.9,962.5C2378.6,963.0 2381.1,969.6 2383.2,980.1C2385.2,990.5 2387.1,1009.2 2389.4,1025.1C2391.7,1040.9 2394.0,1059.7 2396.9,1075.1C2399.8,1090.6 2403.6,1106.4 2406.9,1117.7C2410.3,1128.9 2413.2,1135.2 2416.9,1142.7C2420.7,1150.2 2425.3,1158.1 2429.4,1162.7C2433.6,1167.3 2438.6,1169.0 2441.9,1170.2C2445.3,1171.5 2448.2,1170.2 2449.5,1170.2" fill="none" stroke="#b070dc" stroke-width="5.7" stroke-linejoin="round" stroke-linecap="butt" clip-path="url(#cr)"/>
<path d="M964.5,1256.7C965.5,1256.7 965.0,1256.9 970.5,1256.7C976.0,1256.6 989.3,1256.6 997.6,1256.0C1005.9,1255.4 1014.4,1254.5 1020.1,1253.0C1025.9,1251.5 1028.7,1250.0 1032.2,1247.0C1035.7,1244.0 1038.7,1239.4 1041.2,1234.9C1043.7,1230.4 1045.2,1226.2 1047.2,1219.9C1049.2,1213.6 1051.2,1206.1 1053.2,1197.3C1055.2,1188.6 1057.2,1176.8 1059.2,1167.3C1061.2,1157.8 1063.5,1147.5 1065.2,1140.2C1067.0,1132.9 1068.1,1127.8 1069.8,1123.7C1071.4,1119.5 1073.3,1115.7 1075.0,1115.4C1076.8,1115.2 1078.7,1118.0 1080.3,1122.2C1081.9,1126.3 1083.3,1132.7 1084.8,1140.2C1086.3,1147.7 1087.5,1157.3 1089.3,1167.3C1091.1,1177.3 1093.3,1191.6 1095.3,1200.4C1097.3,1209.1 1099.3,1214.6 1101.3,1219.9C1103.3,1225.2 1104.8,1228.2 1107.3,1231.9C1109.9,1235.7 1112.9,1239.7 1116.4,1242.5C1119.9,1245.2 1123.1,1247.1 1128.4,1248.5C1133.7,1249.8 1142.2,1250.7 1147.9,1250.7C1153.7,1250.7 1158.7,1250.1 1163.0,1248.5C1167.2,1246.8 1170.0,1243.1 1173.5,1240.9C1177.0,1238.8 1180.5,1235.7 1184.0,1235.7C1187.5,1235.7 1191.3,1239.1 1194.6,1240.9C1197.8,1242.8 1198.8,1245.7 1203.6,1247.0C1208.3,1248.2 1216.1,1248.8 1223.1,1248.5C1230.1,1248.1 1239.4,1245.8 1245.7,1244.7C1251.9,1243.6 1254.4,1242.3 1260.7,1241.7C1267.0,1241.1 1278.2,1241.4 1283.3,1241.2C1288.3,1241.1 1287.2,1241.4 1290.8,1240.6C1294.4,1239.9 1299.7,1239.5 1305.0,1236.5C1310.3,1233.5 1316.7,1228.2 1322.5,1222.7C1328.4,1217.3 1334.2,1211.1 1340.0,1204.0C1345.9,1196.9 1353.0,1188.3 1357.6,1180.2C1362.1,1172.1 1364.2,1161.7 1367.6,1155.2C1370.9,1148.7 1373.8,1145.6 1377.6,1141.4C1381.3,1137.3 1385.9,1136.2 1390.1,1130.2C1394.2,1124.1 1398.8,1111.4 1402.6,1105.2C1406.3,1098.9 1409.7,1094.9 1412.6,1092.6C1415.5,1090.4 1417.4,1091.2 1420.1,1091.4C1422.8,1091.6 1425.9,1094.7 1428.9,1093.9C1431.8,1093.1 1434.5,1089.1 1437.6,1086.4C1440.7,1083.7 1444.5,1079.3 1447.6,1077.6C1450.7,1076.0 1453.5,1076.5 1456.4,1076.4C1459.3,1076.3 1462.0,1077.8 1465.1,1077.1C1468.3,1076.5 1471.0,1075.9 1475.1,1072.6C1479.3,1069.4 1484.7,1063.5 1490.2,1057.6C1495.6,1051.8 1501.8,1043.6 1507.7,1037.6C1513.5,1031.6 1518.9,1026.6 1525.2,1021.3C1531.4,1016.1 1538.5,1010.7 1545.2,1006.3C1551.9,1002.0 1559.0,998.2 1565.2,995.1C1571.5,991.9 1576.9,989.9 1582.7,987.6C1588.6,985.3 1594.0,982.6 1600.2,981.3C1606.5,980.1 1613.6,980.7 1620.2,980.1C1626.9,979.4 1634.0,978.8 1640.3,977.6C1646.5,976.3 1651.9,974.6 1657.8,972.6C1663.6,970.5 1669.9,968.2 1675.3,965.0C1680.7,961.9 1685.3,959.2 1690.3,953.8C1695.3,948.4 1702.2,936.7 1705.3,932.5C1708.4,928.4 1706.7,931.4 1709.0,928.8C1711.4,926.2 1715.9,920.5 1719.3,917.1C1722.7,913.7 1726.3,910.7 1729.5,908.3C1732.7,905.9 1735.5,903.7 1738.3,902.4C1741.1,901.2 1743.9,900.9 1746.3,901.0C1748.8,901.1 1750.9,901.7 1752.9,903.2C1755.0,904.6 1756.8,906.7 1758.8,909.8C1760.7,912.8 1762.7,917.6 1764.6,921.5C1766.6,925.4 1768.5,930.5 1770.5,933.2C1772.4,935.9 1774.4,936.4 1776.3,937.6C1778.3,938.8 1780.5,939.3 1782.2,940.5C1783.9,941.7 1785.1,942.4 1786.6,944.9C1788.1,947.3 1788.8,948.3 1791.0,955.1C1793.2,961.9 1797.4,979.5 1799.9,985.6C1802.4,991.7 1803.6,989.9 1805.9,991.6C1808.2,993.2 1811.6,993.2 1813.9,995.6C1816.2,997.9 1817.9,1000.9 1819.9,1005.5C1821.9,1010.2 1823.5,1016.9 1825.9,1023.5C1828.2,1030.2 1830.9,1038.5 1833.9,1045.5C1836.8,1052.5 1837.6,1055.9 1843.8,1065.4C1850.1,1075.0 1864.4,1093.1 1871.5,1102.7C1878.6,1112.2 1881.9,1117.2 1886.5,1122.7C1891.1,1128.1 1894.9,1131.6 1899.0,1135.2C1903.2,1138.7 1907.4,1140.2 1911.5,1143.9C1915.7,1147.7 1919.5,1152.9 1924.1,1157.7C1928.6,1162.5 1934.1,1168.5 1939.1,1172.7C1944.1,1176.9 1949.1,1180.0 1954.1,1182.7C1959.1,1185.4 1963.3,1187.1 1969.1,1189.0C1974.9,1190.8 1983.3,1191.9 1989.1,1194.0C1994.9,1196.1 1998.3,1198.6 2004.1,1201.5C2010.0,1204.4 2017.5,1209.0 2024.1,1211.5C2030.8,1214.0 2037.5,1215.4 2044.1,1216.5C2050.8,1217.6 2057.9,1218.2 2064.2,1218.2C2070.4,1218.2 2075.8,1218.0 2081.7,1216.5C2087.5,1214.9 2092.9,1211.9 2099.2,1209.0C2105.4,1206.1 2112.9,1202.7 2119.2,1199.0C2125.5,1195.2 2131.3,1191.3 2136.7,1186.5C2142.1,1181.7 2147.1,1176.7 2151.7,1170.2C2156.3,1163.7 2160.5,1156.0 2164.2,1147.7C2168.0,1139.3 2170.9,1130.2 2174.2,1120.2C2177.6,1110.2 2181.3,1096.4 2184.3,1087.6C2187.2,1078.9 2189.3,1072.8 2191.8,1067.6C2194.3,1062.4 2197.2,1058.5 2199.3,1056.4C2201.3,1054.3 2202.6,1054.1 2204.3,1055.1C2205.9,1056.2 2207.2,1057.6 2209.3,1062.6C2211.4,1067.6 2214.3,1077.6 2216.8,1085.1C2219.3,1092.6 2222.0,1102.0 2224.3,1107.7C2226.6,1113.3 2228.7,1116.8 2230.5,1118.9C2232.4,1121.0 2233.7,1121.0 2235.5,1120.2C2237.4,1119.3 2239.7,1115.8 2241.8,1113.9C2243.9,1112.0 2246.0,1109.3 2248.0,1108.9C2250.1,1108.5 2252.0,1109.5 2254.3,1111.4C2256.6,1113.3 2259.7,1118.5 2261.8,1120.2C2263.9,1121.8 2264.7,1122.7 2266.8,1121.4C2268.9,1120.2 2271.8,1117.5 2274.3,1112.7C2276.8,1107.9 2279.3,1101.0 2281.8,1092.6C2284.3,1084.3 2286.8,1074.7 2289.3,1062.6C2291.8,1050.5 2294.3,1034.7 2296.8,1020.1C2299.3,1005.5 2301.8,988.0 2304.3,975.1C2306.8,962.1 2309.3,951.7 2311.8,942.5C2314.3,933.4 2317.1,925.4 2319.4,920.0C2321.6,914.6 2323.9,911.9 2325.6,910.0C2327.3,908.1 2327.9,907.5 2329.4,908.8C2330.8,910.0 2332.7,912.7 2334.4,917.5C2336.0,922.3 2337.7,929.2 2339.4,937.5C2341.0,945.9 2342.7,957.1 2344.4,967.6C2346.0,978.0 2347.7,989.7 2349.4,1000.1C2351.0,1010.5 2352.7,1022.2 2354.4,1030.1C2356.0,1038.0 2357.9,1044.7 2359.4,1047.6C2360.8,1050.5 2361.7,1051.4 2363.1,1047.6C2364.6,1043.9 2366.5,1035.1 2368.1,1025.1C2369.8,1015.1 2371.5,997.2 2373.1,987.6C2374.8,978.0 2376.5,971.1 2378.1,967.6C2379.8,964.0 2381.7,964.2 2383.2,966.3C2384.6,968.4 2385.4,972.3 2386.9,980.1C2388.4,987.8 2390.0,999.7 2391.9,1012.6C2393.8,1025.5 2395.7,1043.0 2398.2,1057.6C2400.7,1072.2 2403.8,1088.9 2406.9,1100.2C2410.0,1111.4 2413.2,1117.7 2416.9,1125.2C2420.7,1132.7 2425.3,1140.6 2429.4,1145.2C2433.6,1149.8 2438.6,1151.4 2441.9,1152.7C2445.3,1153.9 2448.2,1152.7 2449.5,1152.7" fill="none" stroke="#c99400" stroke-width="5.7" stroke-linejoin="round" stroke-linecap="butt" clip-path="url(#cr)"/>
<rect x="18.0" y="18.15" width="775.00" height="1254.15" fill="none" stroke="#000" stroke-width="8.7"/>
<rect x="965.2" y="18.15" width="1485.30" height="1254.15" fill="none" stroke="#000" stroke-width="8.7"/>
<line x1="173.3" y1="1272" x2="173.3" y2="1297.2" stroke="#000" stroke-width="9"/>
<line x1="380.0" y1="1272" x2="380.0" y2="1297.2" stroke="#000" stroke-width="9"/>
<line x1="586.6" y1="1272" x2="586.6" y2="1297.2" stroke="#000" stroke-width="9"/>
<line x1="793.2" y1="1272" x2="793.2" y2="1297.2" stroke="#000" stroke-width="9"/>
<line x1="70.0" y1="1272" x2="70.0" y2="1284.2" stroke="#000" stroke-width="9"/>
<line x1="276.6" y1="1272" x2="276.6" y2="1284.2" stroke="#000" stroke-width="9"/>
<line x1="483.3" y1="1272" x2="483.3" y2="1284.2" stroke="#000" stroke-width="9"/>
<line x1="689.9" y1="1272" x2="689.9" y2="1284.2" stroke="#000" stroke-width="9"/>
<line x1="965.3" y1="1272" x2="965.3" y2="1297.2" stroke="#000" stroke-width="9"/>
<line x1="1235.3" y1="1272" x2="1235.3" y2="1297.2" stroke="#000" stroke-width="9"/>
<line x1="1505.3" y1="1272" x2="1505.3" y2="1297.2" stroke="#000" stroke-width="9"/>
<line x1="1775.3" y1="1272" x2="1775.3" y2="1297.2" stroke="#000" stroke-width="9"/>
<line x1="2045.3" y1="1272" x2="2045.3" y2="1297.2" stroke="#000" stroke-width="9"/>
<line x1="2315.3" y1="1272" x2="2315.3" y2="1297.2" stroke="#000" stroke-width="9"/>
<line x1="1100.3" y1="1272" x2="1100.3" y2="1284.2" stroke="#000" stroke-width="9"/>
<line x1="1370.3" y1="1272" x2="1370.3" y2="1284.2" stroke="#000" stroke-width="9"/>
<line x1="1640.3" y1="1272" x2="1640.3" y2="1284.2" stroke="#000" stroke-width="9"/>
<line x1="1910.3" y1="1272" x2="1910.3" y2="1284.2" stroke="#000" stroke-width="9"/>
<line x1="2180.3" y1="1272" x2="2180.3" y2="1284.2" stroke="#000" stroke-width="9"/>
<line x1="2450.3" y1="1272" x2="2450.3" y2="1284.2" stroke="#000" stroke-width="9"/>
<text transform="translate(173.3,1363.3) scale(1,1.072)" font-size="61" text-anchor="middle">3600</text>
<text transform="translate(380.0,1363.3) scale(1,1.072)" font-size="61" text-anchor="middle">3400</text>
<text transform="translate(586.6,1363.3) scale(1,1.072)" font-size="61" text-anchor="middle">3200</text>
<text transform="translate(793.2,1363.3) scale(1,1.072)" font-size="61" text-anchor="middle">3000</text>
<text transform="translate(965.3,1363.3) scale(1,1.072)" font-size="61" text-anchor="middle">1300</text>
<text transform="translate(1235.3,1363.3) scale(1,1.072)" font-size="61" text-anchor="middle">1200</text>
<text transform="translate(1505.3,1363.3) scale(1,1.072)" font-size="61" text-anchor="middle">1100</text>
<text transform="translate(1775.3,1363.3) scale(1,1.072)" font-size="61" text-anchor="middle">1000</text>
<text transform="translate(2045.3,1363.3) scale(1,1.072)" font-size="61" text-anchor="middle">900</text>
<text transform="translate(2315.3,1363.3) scale(1,1.072)" font-size="61" text-anchor="middle">800</text>
<text transform="translate(870.5,1482.3) scale(1,1.012)" font-size="68.3" text-anchor="start">Wavenumber (cm<tspan font-size="48" dy="-27.6">−1</tspan><tspan dy="27.6">)</tspan></text>
<text transform="translate(174.3,324.0) rotate(-90) scale(1,1.045)" font-size="58.6">3626</text>
<text transform="translate(1101.3,323.8) rotate(-90) scale(1,1.045)" font-size="58.6">1261</text>
<text transform="translate(1445.0,323.8) rotate(-90) scale(1,1.045)" font-size="58.6">1131</text>
<text transform="translate(1498.8,323.8) rotate(-90) scale(1,1.045)" font-size="58.6">1115</text>
<text transform="translate(1703.0,323.8) rotate(-90) scale(1,1.045)" font-size="58.6">1037</text>
<text transform="translate(1767.5,323.8) rotate(-90) scale(1,1.045)" font-size="58.6">1012</text>
<text transform="translate(1820.0,315.5) rotate(-90) scale(1,1.045)" font-size="58.6">996</text>
<text transform="translate(206.2,721.5) rotate(-90) scale(1,1.02)" font-size="44.5"><tspan font-weight="normal" font-size="56">ν</tspan><tspan dx="1.3"> </tspan><tspan font-size="40" dy="-1">(</tspan><tspan dy="1" dx="1.6">OH</tspan><tspan dy="14.5" dx="0.6">isolated</tspan><tspan dy="-15.5" dx="2" font-size="40">)</tspan></text>
<line x1="1945" y1="69.8" x2="2057" y2="69.8" stroke="#4d4d4d" stroke-width="7"/>
<text transform="translate(2067.5,85.5) scale(1,1.03)" font-size="47.15" text-anchor="start">NaphMG_2Ph<tspan font-size="32.5" dy="13">2</tspan></text>
<line x1="1945" y1="139.8" x2="2057" y2="139.8" stroke="#ff0000" stroke-width="7"/>
<text transform="translate(2067.5,155.6) scale(1,1.03)" font-size="47.15" text-anchor="start">NaphMG_2Me<tspan font-size="32.5" dy="13">2</tspan></text>
<line x1="1945" y1="209.8" x2="2057" y2="209.8" stroke="#1265dc" stroke-width="7"/>
<text transform="translate(2067.5,225.5) scale(1,1.03)" font-size="47.15" text-anchor="start">NaphMG_4Ph</text>
<line x1="1945" y1="269.3" x2="2057" y2="269.3" stroke="#2ea563" stroke-width="7"/>
<text transform="translate(2067.5,285.4) scale(1,1.03)" font-size="47.15" text-anchor="start">NaphMG_5Ph_d</text>
<line x1="1945" y1="328.6" x2="2057" y2="328.6" stroke="#b070dc" stroke-width="7"/>
<text transform="translate(2067.5,345.3) scale(1,1.03)" font-size="47.15" text-anchor="start">NaphMG</text>
<line x1="1945" y1="388.2" x2="2057" y2="388.2" stroke="#c99400" stroke-width="7"/>
<text transform="translate(2067.5,404.2) scale(1,1.03)" font-size="47.15" text-anchor="start">NaphMG_Sn</text>
</svg>
</body>
</html>
